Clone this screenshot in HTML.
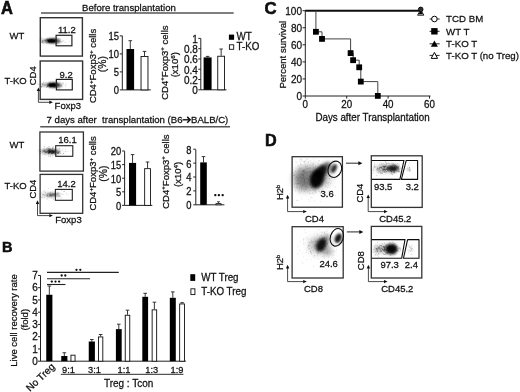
<!DOCTYPE html>
<html><head><meta charset="utf-8"><style>
html,body{margin:0;padding:0;background:#fff;}
svg{display:block;}
text{font-family:"Liberation Sans", sans-serif;fill:#111;}
</style></head><body>
<svg width="520" height="392" viewBox="0 0 520 392">
<defs><filter id="b0_6" x="-50%" y="-50%" width="200%" height="200%"><feGaussianBlur stdDeviation="0.6"/></filter><filter id="b0_9" x="-50%" y="-50%" width="200%" height="200%"><feGaussianBlur stdDeviation="0.9"/></filter><filter id="b1_0" x="-50%" y="-50%" width="200%" height="200%"><feGaussianBlur stdDeviation="1.0"/></filter><filter id="b1_1" x="-50%" y="-50%" width="200%" height="200%"><feGaussianBlur stdDeviation="1.1"/></filter><filter id="b1_2" x="-50%" y="-50%" width="200%" height="200%"><feGaussianBlur stdDeviation="1.2"/></filter><filter id="b1_3" x="-50%" y="-50%" width="200%" height="200%"><feGaussianBlur stdDeviation="1.3"/></filter><filter id="b1_5" x="-50%" y="-50%" width="200%" height="200%"><feGaussianBlur stdDeviation="1.5"/></filter><filter id="b1_6" x="-50%" y="-50%" width="200%" height="200%"><feGaussianBlur stdDeviation="1.6"/></filter><filter id="b1_7" x="-50%" y="-50%" width="200%" height="200%"><feGaussianBlur stdDeviation="1.7"/></filter><filter id="b1_8" x="-50%" y="-50%" width="200%" height="200%"><feGaussianBlur stdDeviation="1.8"/></filter><filter id="b2" x="-50%" y="-50%" width="200%" height="200%"><feGaussianBlur stdDeviation="2"/></filter><filter id="b3" x="-50%" y="-50%" width="200%" height="200%"><feGaussianBlur stdDeviation="3"/></filter><filter id="gsoft" x="0" y="0" width="100%" height="100%"><feGaussianBlur stdDeviation="0.35"/></filter></defs>
<rect width="520" height="392" fill="#fff"/>
<g filter="url(#gsoft)">
<text transform="translate(1.0 13.6) scale(1.0 1.06)" font-size="16.5" text-anchor="start" font-weight="bold" stroke="#000" stroke-width="0.5">A</text>
<text transform="translate(82.0 10.5) scale(1.0 1.03)" font-size="9.6" text-anchor="start" font-weight="normal" stroke="#111" stroke-width="0.25" >Before transplantation</text>
<line x1="41" y1="13.0" x2="233.7" y2="13.0" stroke="#555" stroke-width="1.6"/>
<text transform="translate(9.5 39) scale(1.0 1.03)" font-size="9.5" text-anchor="start" font-weight="normal" stroke="#111" stroke-width="0.25" >WT</text>
<ellipse cx="44.3" cy="40.8" rx="4.5" ry="1.5" fill="#000" fill-opacity="0.35" filter="url(#b1_0)" transform="rotate(0 44.3 40.8)"/>
<ellipse cx="56.3" cy="41.0" rx="4.2" ry="2.5" fill="#000" fill-opacity="0.6" filter="url(#b1_2)" transform="rotate(0 56.3 41.0)"/>
<ellipse cx="51.3" cy="40.8" rx="5.2" ry="2.4" fill="#000" fill-opacity="1.0" filter="url(#b0_9)" transform="rotate(0 51.3 40.8)"/>
<ellipse cx="51.3" cy="40.8" rx="3.5" ry="1.6" fill="#000" fill-opacity="1.0" filter="url(#b0_6)" transform="rotate(0 51.3 40.8)"/>
<path d="M47.6 41.6h0.9 M47.8 40.3h0.9 M44.6 40.5h0.9 M53.8 41.4h0.9 M53.5 41.2h0.9 M50.6 41.1h0.9 M41.3 42.1h0.9 M51.1 41.5h0.9 M41.2 38.2h0.9 M44.8 40.1h0.9 M50.2 40.7h0.9 M51.1 39.8h0.9 M50.2 41.4h0.9 M45.8 43.4h0.9 M51.3 42.6h0.9 M46.0 39.7h0.9 M47.3 40.6h0.9 M51.6 41.2h0.9 M46.8 39.4h0.9 M46.5 42.6h0.9 M45.2 41.2h0.9 M50.7 38.6h0.9 M49.0 42.8h0.9 M39.7 40.3h0.9 M48.3 39.6h0.9 M51.0 40.7h0.9 M42.2 42.0h0.9 M51.8 42.2h0.9 M55.3 41.3h0.9 M49.3 38.9h0.9 M51.6 39.9h0.9 M46.8 38.9h0.9 M44.4 40.0h0.9 M54.6 37.8h0.9 M42.2 41.2h0.9 M55.3 41.7h0.9 M40.3 37.0h0.9 M50.4 39.7h0.9 M43.8 42.3h0.9 M53.8 41.0h0.9 M49.9 41.5h0.9 M56.0 41.7h0.9 M51.1 41.6h0.9 M41.7 42.7h0.9 M53.1 41.6h0.9 M39.9 39.8h0.9 M52.6 38.1h0.9 M48.0 42.3h0.9 M42.9 43.2h0.9 M51.3 40.6h0.9 M50.3 41.8h0.9 M49.3 42.5h0.9 M45.8 40.2h0.9 M53.5 40.8h0.9 M44.8 42.2h0.9 M55.4 40.1h0.9 M42.6 40.6h0.9 M48.1 40.4h0.9 M55.1 39.3h0.9 M54.5 38.9h0.9" stroke="#000" stroke-opacity="0.3" stroke-width="0.9" fill="none"/>
<path d="M57.7 42.1h0.9 M65.3 42.5h0.9 M62.2 41.1h0.9 M61.4 42.0h0.9 M60.1 41.4h0.9 M63.1 40.8h0.9 M63.9 41.9h0.9 M68.8 41.4h0.9 M59.1 40.1h0.9 M60.7 42.6h0.9 M59.5 41.6h0.9 M68.1 35.7h0.9 M56.3 41.3h0.9 M62.4 41.3h0.9" stroke="#000" stroke-opacity="0.15" stroke-width="0.9" fill="none"/>
<rect x="40.3" y="17.7" width="42.10" height="38.40" fill="none" stroke="#333" stroke-width="1.4"/>
<rect x="56.1" y="35.3" width="15.80" height="10.50" fill="none" stroke="#222" stroke-width="1.2"/>
<text transform="translate(58 32.8) scale(1.0 1.03)" font-size="9.5" text-anchor="start" font-weight="normal" stroke="#111" stroke-width="0.25" >11.2</text>
<text transform="translate(4.5 84) scale(1.0 1.03)" font-size="9.5" text-anchor="start" font-weight="normal" stroke="#111" stroke-width="0.25" >T-KO</text>
<ellipse cx="45.5" cy="85" rx="4.5" ry="1.5" fill="#000" fill-opacity="0.35" filter="url(#b1_0)" transform="rotate(0 45.5 85)"/>
<ellipse cx="57.5" cy="85.2" rx="4.2" ry="2.5" fill="#000" fill-opacity="0.6" filter="url(#b1_2)" transform="rotate(0 57.5 85.2)"/>
<ellipse cx="52.5" cy="85" rx="5.2" ry="2.4" fill="#000" fill-opacity="1.0" filter="url(#b0_9)" transform="rotate(0 52.5 85)"/>
<ellipse cx="52.5" cy="85" rx="3.5" ry="1.6" fill="#000" fill-opacity="1.0" filter="url(#b0_6)" transform="rotate(0 52.5 85)"/>
<path d="M48.1 86.0h0.9 M51.3 84.2h0.9 M60.9 85.5h0.9 M47.5 84.9h0.9 M49.0 84.9h0.9 M37.7 84.3h0.9 M54.5 83.2h0.9 M49.7 86.4h0.9 M53.9 87.2h0.9 M42.3 84.5h0.9 M48.5 85.9h0.9 M54.9 81.0h0.9 M54.9 82.8h0.9 M53.1 82.8h0.9 M50.8 86.8h0.9 M49.3 85.3h0.9 M53.6 85.2h0.9 M49.6 87.3h0.9 M54.7 84.6h0.9 M62.4 83.3h0.9 M54.1 84.6h0.9 M50.6 86.1h0.9 M51.0 86.0h0.9 M43.1 82.7h0.9 M52.8 83.6h0.9 M45.4 82.8h0.9 M55.7 86.1h0.9 M56.6 83.6h0.9 M50.0 83.3h0.9 M53.4 87.4h0.9 M46.0 87.3h0.9 M54.4 84.7h0.9 M41.1 87.1h0.9 M49.6 84.1h0.9 M51.8 85.6h0.9 M56.7 83.5h0.9 M55.1 87.2h0.9 M56.5 84.7h0.9 M46.7 86.5h0.9 M50.5 85.2h0.9 M56.4 84.6h0.9 M39.7 84.4h0.9 M41.7 86.2h0.9 M51.4 84.1h0.9 M50.0 86.2h0.9 M50.4 87.0h0.9 M49.7 86.6h0.9 M56.7 87.4h0.9 M47.0 86.3h0.9 M41.6 83.4h0.9 M41.2 86.6h0.9 M44.5 85.0h0.9 M49.1 85.0h0.9 M47.3 85.4h0.9 M58.1 85.1h0.9 M52.4 86.5h0.9 M49.1 83.1h0.9 M47.5 86.6h0.9 M42.6 84.1h0.9 M54.5 86.2h0.9" stroke="#000" stroke-opacity="0.3" stroke-width="0.9" fill="none"/>
<path d="M62.0 86.6h0.9 M62.7 82.6h0.9 M65.7 83.9h0.9 M58.4 83.5h0.9 M57.3 85.7h0.9 M59.4 81.1h0.9 M64.9 84.4h0.9 M63.2 84.1h0.9 M65.1 86.5h0.9 M64.7 85.7h0.9" stroke="#000" stroke-opacity="0.15" stroke-width="0.9" fill="none"/>
<rect x="40.2" y="61" width="42.40" height="38.40" fill="none" stroke="#333" stroke-width="1.4"/>
<rect x="56.4" y="79.4" width="15.90" height="10.50" fill="none" stroke="#222" stroke-width="1.2"/>
<text transform="translate(59.6 77.7) scale(1.0 1.03)" font-size="9.5" text-anchor="start" font-weight="normal" stroke="#111" stroke-width="0.25" >9.2</text>
<text transform="translate(36.4 85.3) rotate(-90) scale(1.0 1.0)" font-size="9.5" text-anchor="start" stroke="#111" stroke-width="0.25" >CD4</text>
<path d="M38.4 90.5 L38.4 102.3 L49.9 102.3" fill="none" stroke="#333" stroke-width="0.9"/>
<path d="M36.699999999999996 91.1 L38.4 87.5 L40.1 91.1Z" fill="#111"/>
<path d="M49.3 100.6 L52.9 102.3 L49.3 104.0Z" fill="#111"/>
<text transform="translate(54.6 109.1) scale(1.0 1.03)" font-size="9.5" text-anchor="start" font-weight="normal" stroke="#111" stroke-width="0.25" >Foxp3</text>
<line x1="122.3" y1="35.8" x2="122.3" y2="89.9" stroke="#222" stroke-width="1"/>
<line x1="122.3" y1="89.9" x2="150.8" y2="89.9" stroke="#222" stroke-width="1"/>
<line x1="119.8" y1="35.900000000000006" x2="122.3" y2="35.900000000000006" stroke="#222" stroke-width="1"/>
<text transform="translate(119.0 40.300000000000004) scale(1.0 1.16)" font-size="9.4" text-anchor="end" font-weight="normal" stroke="#111" stroke-width="0.25" >15</text>
<line x1="119.8" y1="53.900000000000006" x2="122.3" y2="53.900000000000006" stroke="#222" stroke-width="1"/>
<text transform="translate(119.0 58.300000000000004) scale(1.0 1.16)" font-size="9.4" text-anchor="end" font-weight="normal" stroke="#111" stroke-width="0.25" >10</text>
<line x1="119.8" y1="71.9" x2="122.3" y2="71.9" stroke="#222" stroke-width="1"/>
<text transform="translate(119.0 76.30000000000001) scale(1.0 1.16)" font-size="9.4" text-anchor="end" font-weight="normal" stroke="#111" stroke-width="0.25" >5</text>
<line x1="119.8" y1="89.9" x2="122.3" y2="89.9" stroke="#222" stroke-width="1"/>
<text transform="translate(119.0 94.30000000000001) scale(1.0 1.16)" font-size="9.4" text-anchor="end" font-weight="normal" stroke="#111" stroke-width="0.25" >0</text>
<line x1="130.3" y1="49.0" x2="130.3" y2="40.7" stroke="#222" stroke-width="0.9"/>
<line x1="128.5" y1="40.7" x2="132.10000000000002" y2="40.7" stroke="#222" stroke-width="0.9"/>
<rect x="126.5" y="49.0" width="7.60" height="40.90" fill="#000"/>
<line x1="144.5" y1="56.0" x2="144.5" y2="51.4" stroke="#222" stroke-width="0.9"/>
<line x1="142.7" y1="51.4" x2="146.3" y2="51.4" stroke="#222" stroke-width="0.9"/>
<rect x="141.05" y="56.45" width="6.90" height="33.45" fill="#fff" stroke="#111" stroke-width="0.9"/>
<text transform="translate(96.2 103.1) rotate(-90) scale(1.0 1.0)" font-size="9.5" text-anchor="start" stroke="#111" stroke-width="0.25" >CD4<tspan dy="-3.3" font-size="6.2">+</tspan><tspan dy="3.3">Foxp3</tspan><tspan dy="-3.3" font-size="6.2">+</tspan><tspan dy="3.3"> cells</tspan></text>
<text transform="translate(106.2 72.2) rotate(-90) scale(1.0 1.0)" font-size="10.4" text-anchor="start" stroke="#111" stroke-width="0.25" >(%)</text>
<line x1="200.8" y1="38.5" x2="200.8" y2="89.8" stroke="#222" stroke-width="1"/>
<line x1="200.8" y1="89.8" x2="226.5" y2="89.8" stroke="#222" stroke-width="1"/>
<line x1="198.3" y1="38.4" x2="200.8" y2="38.4" stroke="#222" stroke-width="1"/>
<text transform="translate(197.8 42.699999999999996) scale(1.0 1.12)" font-size="10.0" text-anchor="end" font-weight="normal" stroke="#111" stroke-width="0.25" >1</text>
<line x1="198.3" y1="48.67999999999999" x2="200.8" y2="48.67999999999999" stroke="#222" stroke-width="1"/>
<text transform="translate(197.8 52.97999999999999) scale(1.0 1.12)" font-size="10.0" text-anchor="end" font-weight="normal" stroke="#111" stroke-width="0.25" >0.8</text>
<line x1="198.3" y1="58.96" x2="200.8" y2="58.96" stroke="#222" stroke-width="1"/>
<text transform="translate(197.8 63.26) scale(1.0 1.12)" font-size="10.0" text-anchor="end" font-weight="normal" stroke="#111" stroke-width="0.25" >0.6</text>
<line x1="198.3" y1="69.24" x2="200.8" y2="69.24" stroke="#222" stroke-width="1"/>
<text transform="translate(197.8 73.53999999999999) scale(1.0 1.12)" font-size="10.0" text-anchor="end" font-weight="normal" stroke="#111" stroke-width="0.25" >0.4</text>
<line x1="198.3" y1="79.52" x2="200.8" y2="79.52" stroke="#222" stroke-width="1"/>
<text transform="translate(197.8 83.82) scale(1.0 1.12)" font-size="10.0" text-anchor="end" font-weight="normal" stroke="#111" stroke-width="0.25" >0.2</text>
<line x1="198.3" y1="89.8" x2="200.8" y2="89.8" stroke="#222" stroke-width="1"/>
<text transform="translate(197.8 94.1) scale(1.0 1.12)" font-size="10.0" text-anchor="end" font-weight="normal" stroke="#111" stroke-width="0.25" >0</text>
<line x1="207.6" y1="57.4" x2="207.6" y2="56.4" stroke="#222" stroke-width="0.9"/>
<line x1="205.79999999999998" y1="56.4" x2="209.4" y2="56.4" stroke="#222" stroke-width="0.9"/>
<rect x="203.6" y="57.4" width="8.00" height="32.40" fill="#000"/>
<line x1="221.15" y1="55.8" x2="221.15" y2="49" stroke="#222" stroke-width="0.9"/>
<line x1="219.35" y1="49" x2="222.95000000000002" y2="49" stroke="#222" stroke-width="0.9"/>
<rect x="217.75" y="56.25" width="6.80" height="33.55" fill="#fff" stroke="#111" stroke-width="0.9"/>
<text transform="translate(167.6 99.8) rotate(-90) scale(1.0 1.0)" font-size="9.5" text-anchor="start" stroke="#111" stroke-width="0.25" >CD4<tspan dy="-3.3" font-size="6.2">+</tspan><tspan dy="3.3">Foxp3</tspan><tspan dy="-3.3" font-size="6.2">+</tspan><tspan dy="3.3"> cells</tspan></text>
<text transform="translate(178.3 77.3) rotate(-90) scale(1.0 1.0)" font-size="9.5" text-anchor="start" stroke="#111" stroke-width="0.25" >(x10<tspan dy="-3.3" font-size="6.2">6</tspan><tspan dy="3.3">)</tspan></text>
<rect x="228.9" y="34.6" width="5.2" height="5.2" fill="#000"/>
<text transform="translate(236.6 40.3) scale(1.0 1.03)" font-size="9.8" text-anchor="start" font-weight="normal" stroke="#111" stroke-width="0.25" >WT</text>
<rect x="229.4" y="44.8" width="4.3" height="4.5" fill="#fff" stroke="#111" stroke-width="0.9"/>
<text transform="translate(236.6 49.8) scale(1.0 1.03)" font-size="9.8" text-anchor="start" font-weight="normal" stroke="#111" stroke-width="0.25" >T-KO</text>
<text transform="translate(46.6 123.4) scale(1.0 1.03)" font-size="9.6" text-anchor="start" font-weight="normal" stroke="#111" stroke-width="0.25" >7 days after&#160; transplantation (B6</text>
<path d="M182.6 119.8 H189" stroke="#111" stroke-width="1.4"/><path d="M187.2 116.9 L190.1 119.8 L187.2 122.7" fill="none" stroke="#111" stroke-width="1.5"/>
<text transform="translate(191.0 123.4) scale(1.0 1.03)" font-size="9.6" text-anchor="start" font-weight="normal" stroke="#111" stroke-width="0.25" >BALB/C)</text>
<line x1="40.2" y1="126.8" x2="230" y2="126.8" stroke="#555" stroke-width="1.4"/>
<text transform="translate(9.5 148) scale(1.0 1.03)" font-size="9.5" text-anchor="start" font-weight="normal" stroke="#111" stroke-width="0.25" >WT</text>
<ellipse cx="46.5" cy="151.5" rx="7" ry="2.6" fill="#000" fill-opacity="0.3" filter="url(#b1_5)" transform="rotate(0 46.5 151.5)"/>
<ellipse cx="56.5" cy="151.5" rx="3.5" ry="2.3" fill="#000" fill-opacity="0.45" filter="url(#b1_3)" transform="rotate(0 56.5 151.5)"/>
<ellipse cx="51.5" cy="151.5" rx="4.5" ry="2.0" fill="#000" fill-opacity="0.85" filter="url(#b1_0)" transform="rotate(0 51.5 151.5)"/>
<path d="M56.2 152.7h0.9 M51.8 147.7h0.9 M54.0 153.9h0.9 M48.0 150.7h0.9 M59.2 148.3h0.9 M51.8 155.9h0.9 M44.9 152.7h0.9 M58.9 151.3h0.9 M52.3 153.1h0.9 M45.0 151.3h0.9 M51.0 153.0h0.9 M49.3 151.1h0.9 M44.4 150.9h0.9 M54.0 151.7h0.9 M45.2 150.0h0.9 M62.8 153.6h0.9 M52.7 146.8h0.9 M52.6 152.4h0.9 M57.9 152.3h0.9 M49.2 152.4h0.9 M39.8 153.4h0.9 M51.1 150.2h0.9 M56.1 154.8h0.9 M42.5 150.3h0.9 M51.0 151.8h0.9 M47.5 149.7h0.9 M60.1 153.4h0.9 M43.5 149.1h0.9 M58.0 153.3h0.9 M58.6 153.0h0.9 M45.1 152.0h0.9 M38.7 150.2h0.9 M49.2 152.4h0.9 M45.9 151.3h0.9 M51.8 152.2h0.9 M52.7 151.9h0.9 M47.9 152.9h0.9 M49.7 150.0h0.9 M46.4 151.5h0.9 M49.0 151.8h0.9 M49.5 151.8h0.9 M48.8 149.2h0.9 M51.6 153.4h0.9 M51.7 151.2h0.9 M51.7 149.8h0.9 M40.0 151.6h0.9 M44.8 152.8h0.9 M44.1 146.8h0.9 M44.3 154.3h0.9 M47.6 149.0h0.9 M45.7 152.4h0.9 M52.0 151.8h0.9 M56.9 152.8h0.9 M49.4 152.6h0.9 M57.8 153.2h0.9 M54.6 149.6h0.9 M48.8 152.8h0.9 M48.0 153.4h0.9 M52.5 153.1h0.9 M48.4 156.1h0.9 M55.7 151.1h0.9 M50.0 156.2h0.9 M47.8 153.1h0.9 M54.4 151.5h0.9 M43.7 151.8h0.9 M51.3 153.5h0.9 M53.4 151.5h0.9 M53.8 152.5h0.9 M50.5 151.6h0.9 M48.3 152.7h0.9 M44.2 150.4h0.9 M49.5 148.9h0.9 M47.3 147.9h0.9 M46.1 152.5h0.9 M52.3 151.4h0.9 M48.3 148.9h0.9 M58.6 152.4h0.9 M55.0 149.9h0.9 M48.6 148.2h0.9 M53.4 153.2h0.9 M40.0 151.4h0.9 M52.7 148.3h0.9 M40.4 149.6h0.9 M46.4 149.0h0.9 M49.7 151.9h0.9 M52.7 152.8h0.9 M57.0 153.6h0.9 M42.9 150.6h0.9 M44.2 149.6h0.9 M49.1 151.5h0.9 M52.0 148.6h0.9 M43.3 151.5h0.9 M48.5 150.9h0.9 M49.2 150.1h0.9 M53.0 152.1h0.9 M49.1 150.3h0.9 M48.6 146.6h0.9 M44.6 151.6h0.9 M42.0 151.9h0.9 M50.2 149.0h0.9 M48.2 150.9h0.9 M51.8 152.6h0.9 M49.3 150.0h0.9 M48.8 151.4h0.9 M53.2 152.0h0.9 M45.9 149.1h0.9 M47.6 150.2h0.9 M43.9 151.3h0.9 M47.0 151.7h0.9 M52.1 150.8h0.9" stroke="#000" stroke-opacity="0.35" stroke-width="0.9" fill="none"/>
<path d="M69.8 150.8h0.9 M64.9 151.8h0.9 M65.0 146.3h0.9 M57.5 152.0h0.9 M61.8 154.3h0.9 M63.6 153.6h0.9 M62.5 151.2h0.9 M62.5 149.1h0.9 M65.2 149.3h0.9 M61.5 156.2h0.9 M59.6 151.5h0.9 M65.2 151.6h0.9 M57.3 152.1h0.9 M62.8 153.1h0.9 M57.4 155.4h0.9 M67.2 151.5h0.9 M61.6 150.6h0.9" stroke="#000" stroke-opacity="0.15" stroke-width="0.9" fill="none"/>
<rect x="39.9" y="132" width="43.50" height="39.10" fill="none" stroke="#333" stroke-width="1.3"/>
<rect x="55.7" y="145.7" width="17.10" height="10.60" fill="none" stroke="#222" stroke-width="1.1"/>
<text transform="translate(58.2 142.9) scale(1.0 1.03)" font-size="9.5" text-anchor="start" font-weight="normal" stroke="#111" stroke-width="0.25" >16.1</text>
<text transform="translate(4.5 189) scale(1.0 1.03)" font-size="9.5" text-anchor="start" font-weight="normal" stroke="#111" stroke-width="0.25" >T-KO</text>
<ellipse cx="47" cy="194.8" rx="7" ry="2.6" fill="#000" fill-opacity="0.135" filter="url(#b1_5)" transform="rotate(0 47 194.8)"/>
<ellipse cx="57" cy="194.8" rx="3.5" ry="2.3" fill="#000" fill-opacity="0.2025" filter="url(#b1_3)" transform="rotate(0 57 194.8)"/>
<ellipse cx="52" cy="194.8" rx="4.5" ry="2.0" fill="#000" fill-opacity="0.3825" filter="url(#b1_0)" transform="rotate(0 52 194.8)"/>
<path d="M57.1 193.5h0.9 M53.4 193.9h0.9 M46.5 196.1h0.9 M56.7 194.8h0.9 M46.6 196.3h0.9 M49.8 195.4h0.9 M57.6 196.8h0.9 M47.4 198.9h0.9 M50.0 196.2h0.9 M46.8 194.7h0.9 M41.3 198.0h0.9 M56.8 192.6h0.9 M42.5 191.9h0.9 M55.9 194.0h0.9 M49.7 194.2h0.9 M49.4 192.8h0.9 M50.1 192.2h0.9 M49.6 195.4h0.9 M52.3 194.4h0.9 M45.5 195.1h0.9 M47.6 197.6h0.9 M53.8 194.6h0.9 M47.6 193.5h0.9 M45.3 194.2h0.9 M51.5 195.7h0.9 M52.8 198.6h0.9 M46.5 194.8h0.9 M64.0 191.4h0.9 M47.4 195.1h0.9 M50.8 195.5h0.9 M48.8 195.5h0.9 M50.3 196.2h0.9 M40.5 193.2h0.9 M50.0 192.9h0.9 M44.8 195.9h0.9 M46.8 195.9h0.9 M53.7 195.4h0.9 M52.5 194.6h0.9 M43.0 194.7h0.9 M52.3 193.8h0.9 M49.5 196.1h0.9 M45.6 196.0h0.9 M59.3 193.8h0.9 M50.7 194.5h0.9 M57.7 195.4h0.9 M54.5 193.6h0.9 M49.9 194.8h0.9 M41.1 197.4h0.9 M54.5 191.7h0.9 M53.7 194.6h0.9 M52.2 195.5h0.9 M42.5 194.4h0.9 M57.5 193.8h0.9 M44.9 192.4h0.9 M43.9 195.4h0.9 M58.5 195.6h0.9 M51.2 198.8h0.9 M47.4 193.6h0.9 M52.6 195.8h0.9 M44.9 192.7h0.9 M51.5 195.2h0.9 M43.5 194.4h0.9 M47.3 195.6h0.9 M49.4 194.6h0.9 M48.2 196.7h0.9 M57.0 194.1h0.9 M54.2 193.4h0.9 M50.4 196.1h0.9 M57.6 194.1h0.9 M49.6 195.2h0.9 M42.5 194.8h0.9 M46.6 195.5h0.9 M44.4 191.2h0.9 M50.2 195.3h0.9 M47.3 196.4h0.9 M48.6 193.7h0.9 M52.4 192.0h0.9 M46.6 194.8h0.9 M54.2 194.5h0.9 M51.5 193.6h0.9 M51.5 197.8h0.9 M46.6 199.1h0.9 M46.8 194.8h0.9 M50.9 196.6h0.9 M43.8 191.0h0.9 M53.0 196.2h0.9 M53.1 199.5h0.9 M51.0 195.3h0.9 M54.6 195.5h0.9 M58.3 192.6h0.9 M48.1 188.6h0.9 M54.1 194.1h0.9 M54.6 198.7h0.9 M50.0 194.3h0.9 M47.5 193.3h0.9 M46.8 196.0h0.9 M50.2 194.9h0.9 M49.1 196.4h0.9 M52.5 194.5h0.9 M53.3 194.5h0.9 M44.2 197.4h0.9 M52.3 193.1h0.9 M55.4 195.4h0.9 M42.2 197.7h0.9 M51.7 196.4h0.9 M51.0 194.5h0.9 M42.3 196.5h0.9 M50.2 194.3h0.9 M51.8 194.9h0.9 M53.4 194.1h0.9" stroke="#000" stroke-opacity="0.1575" stroke-width="0.9" fill="none"/>
<path d="M60.9 190.1h0.9 M59.3 196.3h0.9 M66.3 194.0h0.9 M60.5 198.3h0.9 M59.7 196.4h0.9 M67.7 194.9h0.9 M65.9 193.2h0.9 M61.8 194.6h0.9 M61.5 197.3h0.9 M70.6 193.3h0.9 M58.7 195.9h0.9 M56.8 195.9h0.9 M63.3 194.2h0.9 M63.1 191.4h0.9 M64.0 191.4h0.9 M58.2 193.6h0.9 M59.4 196.7h0.9 M61.3 193.9h0.9" stroke="#000" stroke-opacity="0.15" stroke-width="0.9" fill="none"/>
<rect x="40.1" y="174.4" width="42.60" height="38.90" fill="none" stroke="#333" stroke-width="1.3"/>
<rect x="55.4" y="189.4" width="16.90" height="10.90" fill="none" stroke="#222" stroke-width="1.1"/>
<text transform="translate(57.2 186.9) scale(1.0 1.03)" font-size="9.5" text-anchor="start" font-weight="normal" stroke="#111" stroke-width="0.25" >14.2</text>
<text transform="translate(36.4 198.6) rotate(-90) scale(1.0 1.0)" font-size="9.5" text-anchor="start" stroke="#111" stroke-width="0.25" >CD4</text>
<path d="M37.5 203.3 L37.5 215.6 L49.9 215.6" fill="none" stroke="#333" stroke-width="0.9"/>
<path d="M35.8 203.9 L37.5 200.3 L39.2 203.9Z" fill="#111"/>
<path d="M49.3 213.9 L52.9 215.6 L49.3 217.29999999999998Z" fill="#111"/>
<text transform="translate(55.3 222.9) scale(1.0 1.03)" font-size="9.5" text-anchor="start" font-weight="normal" stroke="#111" stroke-width="0.25" >Foxp3</text>
<line x1="124.6" y1="151.2" x2="124.6" y2="205.4" stroke="#222" stroke-width="1"/>
<line x1="124.6" y1="205.4" x2="152.3" y2="205.4" stroke="#222" stroke-width="1"/>
<line x1="122.1" y1="151.0" x2="124.6" y2="151.0" stroke="#222" stroke-width="1"/>
<text transform="translate(121.2 155.4) scale(1.0 1.16)" font-size="9.4" text-anchor="end" font-weight="normal" stroke="#111" stroke-width="0.25" >20</text>
<line x1="122.1" y1="164.6" x2="124.6" y2="164.6" stroke="#222" stroke-width="1"/>
<text transform="translate(121.2 169.0) scale(1.0 1.16)" font-size="9.4" text-anchor="end" font-weight="normal" stroke="#111" stroke-width="0.25" >15</text>
<line x1="122.1" y1="178.2" x2="124.6" y2="178.2" stroke="#222" stroke-width="1"/>
<text transform="translate(121.2 182.6) scale(1.0 1.16)" font-size="9.4" text-anchor="end" font-weight="normal" stroke="#111" stroke-width="0.25" >10</text>
<line x1="122.1" y1="191.8" x2="124.6" y2="191.8" stroke="#222" stroke-width="1"/>
<text transform="translate(121.2 196.20000000000002) scale(1.0 1.16)" font-size="9.4" text-anchor="end" font-weight="normal" stroke="#111" stroke-width="0.25" >5</text>
<line x1="122.1" y1="205.4" x2="124.6" y2="205.4" stroke="#222" stroke-width="1"/>
<text transform="translate(121.2 209.8) scale(1.0 1.16)" font-size="9.4" text-anchor="end" font-weight="normal" stroke="#111" stroke-width="0.25" >0</text>
<line x1="132.55" y1="162.9" x2="132.55" y2="154.6" stroke="#222" stroke-width="0.9"/>
<line x1="130.75" y1="154.6" x2="134.35000000000002" y2="154.6" stroke="#222" stroke-width="0.9"/>
<rect x="129" y="162.9" width="7.10" height="42.50" fill="#000"/>
<line x1="147.55" y1="168.2" x2="147.55" y2="162" stroke="#222" stroke-width="0.9"/>
<line x1="145.75" y1="162" x2="149.35000000000002" y2="162" stroke="#222" stroke-width="0.9"/>
<rect x="144.65" y="168.65" width="5.80" height="36.75" fill="#fff" stroke="#111" stroke-width="0.9"/>
<text transform="translate(96.4 210.6) rotate(-90) scale(1.0 1.0)" font-size="9.5" text-anchor="start" stroke="#111" stroke-width="0.25" >CD4<tspan dy="-3.3" font-size="6.2">+</tspan><tspan dy="3.3">Foxp3</tspan><tspan dy="-3.3" font-size="6.2">+</tspan><tspan dy="3.3"> cells</tspan></text>
<text transform="translate(107.0 181.8) rotate(-90) scale(1.0 1.0)" font-size="10.4" text-anchor="start" stroke="#111" stroke-width="0.25" >(%)</text>
<line x1="195.8" y1="149.5" x2="195.8" y2="204.8" stroke="#222" stroke-width="1"/>
<line x1="195.8" y1="204.8" x2="224.4" y2="204.8" stroke="#222" stroke-width="1"/>
<line x1="193.3" y1="149.20000000000002" x2="195.8" y2="149.20000000000002" stroke="#222" stroke-width="1"/>
<text transform="translate(191.5 153.60000000000002) scale(1.0 1.14)" font-size="9.4" text-anchor="end" font-weight="normal" stroke="#111" stroke-width="0.25" >8</text>
<line x1="193.3" y1="163.10000000000002" x2="195.8" y2="163.10000000000002" stroke="#222" stroke-width="1"/>
<text transform="translate(191.5 167.50000000000003) scale(1.0 1.14)" font-size="9.4" text-anchor="end" font-weight="normal" stroke="#111" stroke-width="0.25" >6</text>
<line x1="193.3" y1="177.0" x2="195.8" y2="177.0" stroke="#222" stroke-width="1"/>
<text transform="translate(191.5 181.4) scale(1.0 1.14)" font-size="9.4" text-anchor="end" font-weight="normal" stroke="#111" stroke-width="0.25" >4</text>
<line x1="193.3" y1="190.9" x2="195.8" y2="190.9" stroke="#222" stroke-width="1"/>
<text transform="translate(191.5 195.3) scale(1.0 1.14)" font-size="9.4" text-anchor="end" font-weight="normal" stroke="#111" stroke-width="0.25" >2</text>
<line x1="193.3" y1="204.8" x2="195.8" y2="204.8" stroke="#222" stroke-width="1"/>
<text transform="translate(191.5 209.20000000000002) scale(1.0 1.14)" font-size="9.4" text-anchor="end" font-weight="normal" stroke="#111" stroke-width="0.25" >0</text>
<line x1="203.5" y1="162.4" x2="203.5" y2="156.6" stroke="#222" stroke-width="0.9"/>
<line x1="201.7" y1="156.6" x2="205.3" y2="156.6" stroke="#222" stroke-width="0.9"/>
<rect x="200.2" y="162.4" width="6.60" height="42.40" fill="#000"/>
<rect x="216" y="203.60000000000002" width="5" height="1.2" fill="#fff" stroke="#111" stroke-width="0.8"/>
<line x1="218.5" y1="203.60000000000002" x2="218.5" y2="201.8" stroke="#222" stroke-width="0.8"/>
<line x1="217" y1="201.8" x2="220" y2="201.8" stroke="#222" stroke-width="0.8"/>
<circle cx="215.3" cy="195.1" r="1.2" fill="#111"/>
<circle cx="218.9" cy="195.1" r="1.2" fill="#111"/>
<circle cx="222.7" cy="195.1" r="1.2" fill="#111"/>
<text transform="translate(168.6 208.8) rotate(-90) scale(1.0 1.0)" font-size="9.5" text-anchor="start" stroke="#111" stroke-width="0.25" >CD4<tspan dy="-3.3" font-size="6.2">+</tspan><tspan dy="3.3">Foxp3</tspan><tspan dy="-3.3" font-size="6.2">+</tspan><tspan dy="3.3"> cells</tspan></text>
<text transform="translate(180.8 187) rotate(-90) scale(1.0 1.0)" font-size="9.5" text-anchor="start" stroke="#111" stroke-width="0.25" >(x10<tspan dy="-3.3" font-size="6.2">4</tspan><tspan dy="3.3">)</tspan></text>
<text transform="translate(2.0 252.4) scale(1.0 1.06)" font-size="14.5" text-anchor="start" font-weight="bold" stroke="#000" stroke-width="0.5">B</text>
<line x1="40.5" y1="275.45" x2="40.5" y2="361.2" stroke="#222" stroke-width="1"/>
<line x1="40.5" y1="361.2" x2="186" y2="361.2" stroke="#222" stroke-width="1"/>
<line x1="38.0" y1="275.45" x2="40.5" y2="275.45" stroke="#222" stroke-width="1"/>
<text transform="translate(37.8 279.15) scale(1.0 1.05)" font-size="10" text-anchor="end" font-weight="normal" stroke="#111" stroke-width="0.25" >7</text>
<line x1="38.0" y1="287.7" x2="40.5" y2="287.7" stroke="#222" stroke-width="1"/>
<text transform="translate(37.8 291.4) scale(1.0 1.05)" font-size="10" text-anchor="end" font-weight="normal" stroke="#111" stroke-width="0.25" >6</text>
<line x1="38.0" y1="299.95" x2="40.5" y2="299.95" stroke="#222" stroke-width="1"/>
<text transform="translate(37.8 303.65) scale(1.0 1.05)" font-size="10" text-anchor="end" font-weight="normal" stroke="#111" stroke-width="0.25" >5</text>
<line x1="38.0" y1="312.2" x2="40.5" y2="312.2" stroke="#222" stroke-width="1"/>
<text transform="translate(37.8 315.9) scale(1.0 1.05)" font-size="10" text-anchor="end" font-weight="normal" stroke="#111" stroke-width="0.25" >4</text>
<line x1="38.0" y1="324.45" x2="40.5" y2="324.45" stroke="#222" stroke-width="1"/>
<text transform="translate(37.8 328.15) scale(1.0 1.05)" font-size="10" text-anchor="end" font-weight="normal" stroke="#111" stroke-width="0.25" >3</text>
<line x1="38.0" y1="336.7" x2="40.5" y2="336.7" stroke="#222" stroke-width="1"/>
<text transform="translate(37.8 340.4) scale(1.0 1.05)" font-size="10" text-anchor="end" font-weight="normal" stroke="#111" stroke-width="0.25" >2</text>
<line x1="38.0" y1="348.95" x2="40.5" y2="348.95" stroke="#222" stroke-width="1"/>
<text transform="translate(37.8 352.65) scale(1.0 1.05)" font-size="10" text-anchor="end" font-weight="normal" stroke="#111" stroke-width="0.25" >1</text>
<line x1="38.0" y1="361.2" x2="40.5" y2="361.2" stroke="#222" stroke-width="1"/>
<text transform="translate(37.8 364.9) scale(1.0 1.05)" font-size="10" text-anchor="end" font-weight="normal" stroke="#111" stroke-width="0.25" >0</text>
<line x1="49.325" y1="294.75" x2="49.325" y2="286" stroke="#222" stroke-width="0.9"/>
<line x1="47.525000000000006" y1="286" x2="51.125" y2="286" stroke="#222" stroke-width="0.9"/>
<rect x="46.25" y="294.75" width="6.15" height="66.45" fill="#000"/>
<line x1="64.325" y1="356" x2="64.325" y2="352.75" stroke="#222" stroke-width="0.9"/>
<line x1="62.525000000000006" y1="352.75" x2="66.125" y2="352.75" stroke="#222" stroke-width="0.9"/>
<rect x="61.25" y="356" width="6.15" height="5.20" fill="#000"/>
<rect x="70.95" y="355.20" width="4.10" height="6.00" fill="#fff" stroke="#111" stroke-width="0.9"/>
<line x1="91.825" y1="341.5" x2="91.825" y2="339.5" stroke="#222" stroke-width="0.9"/>
<line x1="90.025" y1="339.5" x2="93.625" y2="339.5" stroke="#222" stroke-width="0.9"/>
<rect x="88.75" y="341.5" width="6.15" height="19.70" fill="#000"/>
<line x1="100.625" y1="336.5" x2="100.625" y2="334.5" stroke="#222" stroke-width="0.9"/>
<line x1="98.825" y1="334.5" x2="102.425" y2="334.5" stroke="#222" stroke-width="0.9"/>
<rect x="98.45" y="336.95" width="4.35" height="24.25" fill="#fff" stroke="#111" stroke-width="0.9"/>
<line x1="118.80000000000001" y1="329.1" x2="118.80000000000001" y2="324.2" stroke="#222" stroke-width="0.9"/>
<line x1="117.00000000000001" y1="324.2" x2="120.60000000000001" y2="324.2" stroke="#222" stroke-width="0.9"/>
<rect x="115.9" y="329.1" width="5.80" height="32.10" fill="#000"/>
<line x1="127.5" y1="314.8" x2="127.5" y2="310.2" stroke="#222" stroke-width="0.9"/>
<line x1="125.7" y1="310.2" x2="129.3" y2="310.2" stroke="#222" stroke-width="0.9"/>
<rect x="125.25" y="315.25" width="4.50" height="45.95" fill="#fff" stroke="#111" stroke-width="0.9"/>
<line x1="145.2" y1="296.8" x2="145.2" y2="293.3" stroke="#222" stroke-width="0.9"/>
<line x1="143.39999999999998" y1="293.3" x2="147.0" y2="293.3" stroke="#222" stroke-width="0.9"/>
<rect x="142.3" y="296.8" width="5.80" height="64.40" fill="#000"/>
<line x1="154.39999999999998" y1="309.4" x2="154.39999999999998" y2="302.2" stroke="#222" stroke-width="0.9"/>
<line x1="152.59999999999997" y1="302.2" x2="156.2" y2="302.2" stroke="#222" stroke-width="0.9"/>
<rect x="152.15" y="309.85" width="4.50" height="51.35" fill="#fff" stroke="#111" stroke-width="0.9"/>
<line x1="172.8" y1="297.8" x2="172.8" y2="291.9" stroke="#222" stroke-width="0.9"/>
<line x1="171.0" y1="291.9" x2="174.60000000000002" y2="291.9" stroke="#222" stroke-width="0.9"/>
<rect x="169.8" y="297.8" width="6.00" height="63.40" fill="#000"/>
<line x1="182.1" y1="303.5" x2="182.1" y2="302.7" stroke="#222" stroke-width="0.9"/>
<line x1="180.29999999999998" y1="302.7" x2="183.9" y2="302.7" stroke="#222" stroke-width="0.9"/>
<rect x="179.65" y="303.95" width="4.90" height="57.25" fill="#fff" stroke="#111" stroke-width="0.9"/>
<line x1="47" y1="272.4" x2="118.8" y2="272.4" stroke="#222" stroke-width="1.1"/>
<circle cx="76.5" cy="269.8" r="1.15" fill="#111"/>
<circle cx="80.3" cy="269.8" r="1.15" fill="#111"/>
<line x1="47" y1="278.7" x2="90" y2="278.7" stroke="#222" stroke-width="1.1"/>
<circle cx="61.7" cy="275.5" r="1.15" fill="#111"/>
<circle cx="65.3" cy="275.5" r="1.15" fill="#111"/>
<line x1="47" y1="284.5" x2="65.5" y2="284.5" stroke="#222" stroke-width="1.1"/>
<circle cx="51.8" cy="281.6" r="1.15" fill="#111"/>
<circle cx="55.5" cy="281.6" r="1.15" fill="#111"/>
<circle cx="59.1" cy="281.6" r="1.15" fill="#111"/>
<text transform="translate(62.0 372.8) scale(1.0 1.03)" font-size="9.3" text-anchor="start" font-weight="normal" stroke="#111" stroke-width="0.25" >9:1</text>
<text transform="translate(88.1 372.8) scale(1.0 1.03)" font-size="9.3" text-anchor="start" font-weight="normal" stroke="#111" stroke-width="0.25" >3:1</text>
<text transform="translate(117.5 372.8) scale(1.0 1.03)" font-size="9.3" text-anchor="start" font-weight="normal" stroke="#111" stroke-width="0.25" >1:1</text>
<text transform="translate(145.3 372.8) scale(1.0 1.03)" font-size="9.3" text-anchor="start" font-weight="normal" stroke="#111" stroke-width="0.25" >1:3</text>
<text transform="translate(170.5 372.8) scale(1.0 1.03)" font-size="9.3" text-anchor="start" font-weight="normal" stroke="#111" stroke-width="0.25" >1:9</text>
<line x1="60.8" y1="374.4" x2="183.4" y2="374.4" stroke="#555" stroke-width="1.3"/>
<text transform="translate(103.9 386.6) scale(1.0 1.03)" font-size="10" text-anchor="start" font-weight="normal" stroke="#111" stroke-width="0.25" >Treg : Tcon</text>
<text transform="translate(55.6 367.4) rotate(-44)" font-size="10" text-anchor="end" stroke="#111" stroke-width="0.25">No Treg</text>
<text transform="translate(17.0 366.7) rotate(-90) scale(1.0 1.0)" font-size="9.5" text-anchor="start" stroke="#111" stroke-width="0.25" >Live cell recovery rate</text>
<text transform="translate(28.2 330.6) rotate(-90) scale(1.0 1.0)" font-size="9.5" text-anchor="start" stroke="#111" stroke-width="0.25" >(fold)</text>
<rect x="190.3" y="274.2" width="4.9" height="6.7" fill="#000"/>
<text transform="translate(201.2 281.0) scale(1.0 1.03)" font-size="9.8" text-anchor="start" font-weight="normal" stroke="#111" stroke-width="0.25" >WT Treg</text>
<rect x="190.9" y="288.8" width="4.0" height="5.8" fill="#fff" stroke="#111" stroke-width="0.9"/>
<text transform="translate(201.2 295.2) scale(1.0 1.03)" font-size="9.8" text-anchor="start" font-weight="normal" stroke="#111" stroke-width="0.25" >T-KO Treg</text>
<text transform="translate(264.6 13.5) scale(1.0 1.02)" font-size="16.8" text-anchor="start" font-weight="bold" stroke="#000" stroke-width="0.5">C</text>
<line x1="305.3" y1="10" x2="305.3" y2="96" stroke="#222" stroke-width="1"/>
<line x1="305.3" y1="96" x2="430.5" y2="96" stroke="#222" stroke-width="1"/>
<line x1="302.6" y1="10.700000000000003" x2="305.3" y2="10.700000000000003" stroke="#222" stroke-width="1"/>
<text transform="translate(302.0 14.900000000000002) scale(1.0 1.05)" font-size="10" text-anchor="end" font-weight="normal" stroke="#111" stroke-width="0.25" >100</text>
<line x1="302.6" y1="27.760000000000005" x2="305.3" y2="27.760000000000005" stroke="#222" stroke-width="1"/>
<text transform="translate(302.0 31.960000000000004) scale(1.0 1.05)" font-size="10" text-anchor="end" font-weight="normal" stroke="#111" stroke-width="0.25" >80</text>
<line x1="302.6" y1="44.82" x2="305.3" y2="44.82" stroke="#222" stroke-width="1"/>
<text transform="translate(302.0 49.02) scale(1.0 1.05)" font-size="10" text-anchor="end" font-weight="normal" stroke="#111" stroke-width="0.25" >60</text>
<line x1="302.6" y1="61.88" x2="305.3" y2="61.88" stroke="#222" stroke-width="1"/>
<text transform="translate(302.0 66.08) scale(1.0 1.05)" font-size="10" text-anchor="end" font-weight="normal" stroke="#111" stroke-width="0.25" >40</text>
<line x1="302.6" y1="78.94" x2="305.3" y2="78.94" stroke="#222" stroke-width="1"/>
<text transform="translate(302.0 83.14) scale(1.0 1.05)" font-size="10" text-anchor="end" font-weight="normal" stroke="#111" stroke-width="0.25" >20</text>
<line x1="302.6" y1="96.0" x2="305.3" y2="96.0" stroke="#222" stroke-width="1"/>
<text transform="translate(302.0 100.2) scale(1.0 1.05)" font-size="10" text-anchor="end" font-weight="normal" stroke="#111" stroke-width="0.25" >0</text>
<line x1="305.3" y1="96" x2="305.3" y2="98.6" stroke="#222" stroke-width="1"/>
<text transform="translate(305.3 108) scale(1.0 1.05)" font-size="9.8" text-anchor="middle" font-weight="normal" stroke="#111" stroke-width="0.25" >0</text>
<line x1="346.7" y1="96" x2="346.7" y2="98.6" stroke="#222" stroke-width="1"/>
<text transform="translate(346.7 108) scale(1.0 1.05)" font-size="9.8" text-anchor="middle" font-weight="normal" stroke="#111" stroke-width="0.25" >20</text>
<line x1="388.1" y1="96" x2="388.1" y2="98.6" stroke="#222" stroke-width="1"/>
<text transform="translate(388.1 108) scale(1.0 1.05)" font-size="9.8" text-anchor="middle" font-weight="normal" stroke="#111" stroke-width="0.25" >40</text>
<line x1="429.5" y1="96" x2="429.5" y2="98.6" stroke="#222" stroke-width="1"/>
<text transform="translate(429.5 108) scale(1.0 1.05)" font-size="9.8" text-anchor="middle" font-weight="normal" stroke="#111" stroke-width="0.25" >60</text>
<text transform="translate(315.4 120.5) scale(1.0 1.03)" font-size="9.8" text-anchor="start" font-weight="normal" stroke="#111" stroke-width="0.25" >Days after Transplantation</text>
<text transform="translate(286.2 88.5) rotate(-90) scale(1.0 1.0)" font-size="9.5" text-anchor="start" stroke="#111" stroke-width="0.25" >Percent survival</text>
<line x1="305.3" y1="10.700000000000003" x2="421" y2="10.700000000000003" stroke="#111" stroke-width="2"/>
<path d="M315.9 10.700000000000003 V31.8 H322 V38.9 H350.6 V53.1 H353.1 V60.2 H359.2 V67.3 H360.8 V81.6 H377.8 V95.9" fill="none" stroke="#444" stroke-width="1"/>
<rect x="313.0" y="28.900000000000002" width="5.8" height="5.8" fill="#000"/>
<rect x="319.1" y="36.0" width="5.8" height="5.8" fill="#000"/>
<rect x="347.70000000000005" y="50.2" width="5.8" height="5.8" fill="#000"/>
<rect x="350.20000000000005" y="57.300000000000004" width="5.8" height="5.8" fill="#000"/>
<rect x="356.3" y="64.39999999999999" width="5.8" height="5.8" fill="#000"/>
<rect x="357.90000000000003" y="78.69999999999999" width="5.8" height="5.8" fill="#000"/>
<rect x="374.90000000000003" y="93.0" width="5.8" height="5.8" fill="#000"/>
<path d="M417.6 15.2 L420.7 9.6 L423.8 15.2Z" fill="#fff" stroke="#000" stroke-width="0.9"/>
<path d="M418.6 14.2 L420.7 10.6 L422.8 14.2Z" fill="#000"/>
<circle cx="420.7" cy="9.4" r="2.3" fill="#333" stroke="#000" stroke-width="0.9"/>
<line x1="429.6" y1="19" x2="439.6" y2="19" stroke="#111" stroke-width="0.9"/>
<line x1="429.6" y1="31.3" x2="439.6" y2="31.3" stroke="#111" stroke-width="0.9"/>
<line x1="429.6" y1="43.8" x2="439.6" y2="43.8" stroke="#111" stroke-width="0.9"/>
<line x1="429.6" y1="55.4" x2="439.6" y2="55.4" stroke="#111" stroke-width="0.9"/>
<circle cx="434.4" cy="19" r="2.8" fill="#fff" stroke="#000" stroke-width="1"/>
<rect x="431.2" y="28.1" width="6.4" height="6.4" fill="#000"/>
<path d="M430.9 46.8 L434.4 40.4 L437.9 46.8Z" fill="#000"/>
<path d="M431.2 58.4 L434.4 52.4 L437.6 58.4Z" fill="#fff" stroke="#000" stroke-width="1"/>
<text transform="translate(446.1 22.3) scale(1.0 1.03)" font-size="9.7" text-anchor="start" font-weight="normal" stroke="#111" stroke-width="0.25" >TCD BM</text>
<text transform="translate(446.1 34.6) scale(1.0 1.03)" font-size="9.7" text-anchor="start" font-weight="normal" stroke="#111" stroke-width="0.25" >WT T</text>
<text transform="translate(446.1 47.1) scale(1.0 1.03)" font-size="9.7" text-anchor="start" font-weight="normal" stroke="#111" stroke-width="0.25" >T-KO T</text>
<text transform="translate(446.1 58.7) scale(1.0 1.03)" font-size="9.7" text-anchor="start" font-weight="normal" stroke="#111" stroke-width="0.25" >T-KO T (no Treg)</text>
<text transform="translate(265.0 145.8) scale(1.0 1.04)" font-size="16.2" text-anchor="start" font-weight="bold" stroke="#000" stroke-width="0.5">D</text>
<ellipse cx="310" cy="178" rx="16" ry="12" fill="#000" fill-opacity="0.4" filter="url(#b3)" transform="rotate(0 310 178)"/>
<ellipse cx="302" cy="181" rx="8" ry="11" fill="#000" fill-opacity="0.2" filter="url(#b3)" transform="rotate(0 302 181)"/>
<ellipse cx="326.5" cy="170" rx="9" ry="3.8" fill="#000" fill-opacity="0.4" filter="url(#b2)" transform="rotate(-40 326.5 170)"/>
<ellipse cx="327" cy="178" rx="6" ry="8" fill="#000" fill-opacity="0.12" filter="url(#b3)" transform="rotate(0 327 178)"/>
<ellipse cx="316.8" cy="178.8" rx="7.0" ry="9.6" fill="#000" fill-opacity="0.97" filter="url(#b1_5)" transform="rotate(15 316.8 178.8)"/>
<ellipse cx="320.8" cy="171.5" rx="5.0" ry="7.0" fill="#000" fill-opacity="0.88" filter="url(#b1_6)" transform="rotate(40 320.8 171.5)"/>
<ellipse cx="325.5" cy="166" rx="3.2" ry="5.5" fill="#000" fill-opacity="0.5" filter="url(#b1_8)" transform="rotate(55 325.5 166)"/>
<ellipse cx="334.0" cy="168.6" rx="2.4" ry="4.6" fill="#000" fill-opacity="0.8" filter="url(#b1_1)" transform="rotate(25 334.0 168.6)"/>
<path d="M315.4 192.2h0.9 M310.1 181.3h0.9 M322.4 180.4h0.9 M297.2 200.4h0.9 M332.1 160.1h0.9 M309.6 181.8h0.9 M319.7 184.0h0.9 M307.3 168.5h0.9 M311.0 187.3h0.9 M299.1 168.8h0.9 M309.8 160.6h0.9 M307.4 174.1h0.9 M314.5 171.7h0.9 M301.2 174.5h0.9 M309.5 172.0h0.9 M310.1 184.8h0.9 M321.9 193.3h0.9 M302.2 174.2h0.9 M302.8 177.7h0.9 M315.2 165.8h0.9 M314.6 177.8h0.9 M321.9 161.2h0.9 M318.1 179.9h0.9 M314.7 182.0h0.9 M323.0 176.0h0.9 M318.7 174.3h0.9 M317.3 170.7h0.9 M308.9 193.6h0.9 M314.5 176.6h0.9 M298.6 170.9h0.9 M311.9 186.5h0.9 M314.3 182.7h0.9 M309.6 190.2h0.9 M306.1 173.1h0.9 M318.9 178.6h0.9 M307.2 172.8h0.9 M307.4 183.6h0.9 M313.5 167.1h0.9 M314.3 179.6h0.9 M300.0 185.0h0.9 M307.2 175.0h0.9 M318.0 189.9h0.9 M303.1 181.9h0.9 M301.2 198.8h0.9 M305.1 188.8h0.9 M303.5 185.3h0.9 M305.7 182.5h0.9 M309.1 172.0h0.9 M331.5 178.7h0.9 M293.6 185.7h0.9 M304.2 179.3h0.9 M322.6 179.1h0.9 M296.1 162.7h0.9 M321.8 184.7h0.9 M301.8 185.7h0.9 M315.0 183.8h0.9 M319.0 184.6h0.9 M311.7 182.4h0.9 M335.5 169.4h0.9 M306.7 178.3h0.9 M318.9 174.0h0.9 M321.5 170.9h0.9 M312.7 173.3h0.9 M311.6 171.8h0.9 M294.0 187.8h0.9 M313.0 173.0h0.9 M312.0 186.9h0.9 M300.2 177.0h0.9 M315.4 182.7h0.9 M306.6 159.0h0.9 M322.4 181.0h0.9 M310.1 175.5h0.9 M312.6 174.2h0.9 M299.8 171.3h0.9 M304.0 172.5h0.9 M298.4 183.7h0.9 M296.9 183.9h0.9 M299.9 181.2h0.9 M323.7 179.8h0.9 M302.7 178.4h0.9 M311.5 162.4h0.9 M303.9 179.5h0.9 M305.3 178.7h0.9 M317.3 184.9h0.9 M319.1 183.3h0.9 M307.1 177.8h0.9 M307.3 175.2h0.9 M308.2 162.5h0.9 M306.7 177.8h0.9 M300.3 177.8h0.9 M315.2 176.5h0.9 M307.9 161.6h0.9 M319.8 201.9h0.9 M315.2 175.3h0.9 M318.5 181.3h0.9 M310.2 172.7h0.9 M316.4 173.6h0.9 M312.2 173.4h0.9 M312.0 184.8h0.9 M301.2 177.7h0.9 M316.2 179.3h0.9 M322.4 195.9h0.9 M300.9 160.7h0.9 M318.6 191.8h0.9 M319.2 185.3h0.9 M303.8 171.6h0.9 M318.9 169.8h0.9 M334.9 195.3h0.9 M303.1 171.4h0.9 M312.3 171.3h0.9 M323.1 177.3h0.9 M299.1 189.8h0.9 M304.2 180.0h0.9 M309.9 175.2h0.9 M313.2 171.8h0.9 M297.3 171.2h0.9 M309.8 178.5h0.9 M315.6 179.1h0.9 M302.1 171.6h0.9 M314.8 182.8h0.9 M308.8 176.4h0.9 M319.4 178.1h0.9 M317.4 183.2h0.9 M312.1 189.8h0.9 M304.3 174.8h0.9 M301.9 170.8h0.9 M325.6 193.8h0.9 M310.2 183.1h0.9 M321.8 185.3h0.9 M322.1 166.6h0.9 M303.6 182.1h0.9 M324.4 178.9h0.9 M301.4 174.8h0.9 M303.4 170.3h0.9 M325.0 172.4h0.9 M310.2 197.5h0.9 M321.8 181.0h0.9 M303.9 181.7h0.9 M326.2 183.6h0.9 M322.6 178.9h0.9 M315.2 176.2h0.9 M314.3 189.7h0.9 M295.7 177.4h0.9 M312.4 172.9h0.9 M306.9 185.1h0.9 M330.0 183.7h0.9 M313.3 164.0h0.9 M329.3 178.7h0.9 M309.7 167.9h0.9 M309.4 168.1h0.9 M310.7 182.2h0.9 M310.3 180.5h0.9 M301.5 190.9h0.9 M303.5 161.6h0.9 M308.1 171.1h0.9 M299.9 174.8h0.9 M312.9 167.4h0.9 M308.6 190.8h0.9 M316.8 176.6h0.9 M311.3 176.9h0.9 M309.5 184.6h0.9 M309.8 170.0h0.9 M316.5 172.5h0.9 M311.5 197.6h0.9 M299.5 167.9h0.9 M303.6 161.2h0.9 M295.2 183.6h0.9 M302.2 174.7h0.9 M313.3 190.2h0.9 M329.4 187.3h0.9 M311.4 179.7h0.9 M328.0 190.9h0.9 M306.9 182.1h0.9 M312.9 178.5h0.9 M305.0 166.1h0.9 M304.7 164.1h0.9 M322.2 182.8h0.9 M297.9 190.6h0.9 M318.9 160.8h0.9 M328.4 185.3h0.9 M330.6 166.9h0.9 M315.3 181.8h0.9 M312.0 179.5h0.9 M320.5 164.6h0.9 M297.6 165.5h0.9 M304.4 172.6h0.9 M313.7 180.4h0.9 M310.3 171.9h0.9 M305.6 186.6h0.9 M317.6 178.9h0.9 M306.8 192.0h0.9 M304.1 183.8h0.9 M321.5 175.6h0.9 M318.3 168.0h0.9 M320.1 179.8h0.9 M294.1 184.0h0.9 M301.1 189.5h0.9 M303.2 176.5h0.9 M312.8 175.0h0.9 M312.6 173.0h0.9 M316.7 178.0h0.9 M321.6 178.3h0.9 M314.7 187.6h0.9 M299.2 191.9h0.9 M308.4 199.6h0.9 M308.5 184.1h0.9 M306.3 168.0h0.9 M321.0 186.2h0.9 M325.4 185.7h0.9 M304.3 163.0h0.9 M303.5 171.9h0.9 M301.8 183.2h0.9 M313.3 175.6h0.9 M311.7 176.7h0.9 M312.1 184.8h0.9 M319.6 171.8h0.9 M294.9 190.8h0.9 M311.1 188.0h0.9 M293.6 175.0h0.9 M310.3 165.0h0.9 M304.8 184.5h0.9 M320.8 192.3h0.9 M301.4 165.4h0.9 M315.2 186.5h0.9 M311.9 166.3h0.9 M317.8 185.1h0.9 M315.5 173.6h0.9 M313.0 185.1h0.9 M304.4 161.4h0.9 M313.3 182.3h0.9 M310.1 186.0h0.9 M304.1 177.3h0.9 M306.9 183.1h0.9 M326.0 175.7h0.9 M330.5 191.8h0.9 M317.9 183.3h0.9 M327.7 176.4h0.9 M308.9 168.4h0.9 M314.7 190.1h0.9 M315.3 181.8h0.9 M308.0 179.5h0.9 M295.7 187.4h0.9 M305.9 168.1h0.9 M302.5 170.6h0.9 M318.6 187.5h0.9 M296.4 186.3h0.9 M318.9 172.8h0.9 M295.1 171.3h0.9 M303.7 181.1h0.9 M306.4 159.7h0.9 M312.3 164.2h0.9 M319.1 167.1h0.9 M303.1 170.3h0.9 M304.6 189.7h0.9 M318.5 183.4h0.9 M313.2 164.1h0.9 M304.8 173.0h0.9 M300.2 182.6h0.9 M302.6 171.6h0.9 M299.6 159.5h0.9 M316.0 190.0h0.9 M311.7 169.2h0.9 M322.2 180.7h0.9 M319.3 191.3h0.9 M321.3 174.0h0.9 M320.5 185.0h0.9 M294.6 174.4h0.9 M295.8 177.0h0.9 M315.8 168.4h0.9 M313.8 191.2h0.9 M296.8 187.5h0.9 M330.7 196.1h0.9 M307.9 180.4h0.9 M308.5 187.0h0.9 M320.4 178.8h0.9 M296.4 184.7h0.9 M305.3 183.7h0.9 M312.6 192.6h0.9 M321.4 173.9h0.9 M313.5 193.9h0.9 M304.6 181.9h0.9 M321.9 189.3h0.9 M315.2 166.1h0.9 M297.4 180.2h0.9 M313.9 200.9h0.9 M301.4 188.2h0.9 M317.7 163.0h0.9 M301.8 179.5h0.9 M305.1 176.6h0.9 M314.7 170.7h0.9 M314.7 172.3h0.9 M304.6 182.8h0.9 M304.3 180.6h0.9 M326.0 178.2h0.9 M308.5 184.6h0.9 M306.3 187.7h0.9 M297.2 183.6h0.9 M304.9 170.8h0.9 M327.7 170.3h0.9 M327.6 183.9h0.9 M324.5 169.2h0.9 M322.0 191.1h0.9 M308.8 176.8h0.9 M334.6 179.6h0.9 M305.8 172.3h0.9 M314.5 181.0h0.9 M311.8 193.5h0.9 M306.7 182.3h0.9 M324.6 169.0h0.9 M320.4 194.5h0.9 M296.5 168.1h0.9 M299.6 161.4h0.9 M314.5 161.3h0.9 M315.0 191.1h0.9 M293.8 175.2h0.9 M302.6 175.6h0.9 M310.5 182.9h0.9 M306.5 178.1h0.9 M304.5 179.0h0.9 M298.3 178.6h0.9 M329.2 178.7h0.9 M297.4 180.3h0.9 M300.3 163.1h0.9 M302.6 184.6h0.9 M313.8 177.1h0.9 M300.7 168.3h0.9 M323.5 180.2h0.9 M300.5 159.0h0.9 M296.3 200.3h0.9 M298.5 177.3h0.9 M312.1 176.6h0.9 M307.2 165.6h0.9 M299.5 193.2h0.9 M302.4 185.6h0.9 M293.1 175.5h0.9 M312.6 187.3h0.9 M298.8 183.4h0.9 M313.9 171.4h0.9 M314.8 169.9h0.9 M302.0 177.8h0.9 M300.0 164.8h0.9 M305.7 184.9h0.9 M306.0 189.4h0.9 M298.4 166.2h0.9 M325.5 181.6h0.9 M319.5 170.6h0.9 M318.0 180.3h0.9 M316.5 178.2h0.9 M322.1 172.2h0.9 M300.4 164.7h0.9 M321.6 171.4h0.9 M299.6 169.5h0.9 M305.5 166.6h0.9 M307.1 172.4h0.9 M304.5 169.4h0.9 M310.4 173.9h0.9 M311.1 180.2h0.9 M313.4 158.3h0.9 M304.6 170.8h0.9 M317.7 163.8h0.9 M302.9 175.4h0.9 M306.6 186.9h0.9 M305.6 186.7h0.9 M295.3 161.7h0.9 M322.2 181.9h0.9 M314.9 179.1h0.9 M314.8 167.1h0.9 M319.5 173.2h0.9 M319.9 178.8h0.9 M321.3 176.8h0.9 M306.0 180.2h0.9 M305.7 173.1h0.9 M311.0 179.3h0.9 M325.2 178.4h0.9 M328.8 194.2h0.9 M327.2 187.6h0.9 M311.3 179.2h0.9 M308.6 171.4h0.9 M309.3 172.2h0.9 M326.4 182.8h0.9 M305.5 160.8h0.9 M309.5 174.3h0.9 M299.1 167.8h0.9 M309.3 201.2h0.9 M309.7 176.7h0.9 M324.4 179.2h0.9 M311.7 174.7h0.9 M303.9 191.5h0.9 M320.0 193.4h0.9 M306.5 178.3h0.9 M301.2 186.7h0.9 M296.1 183.1h0.9 M321.0 190.7h0.9 M300.6 187.8h0.9 M302.9 171.2h0.9 M296.8 188.4h0.9 M326.5 172.7h0.9 M302.4 174.9h0.9 M335.1 187.0h0.9 M304.6 161.9h0.9 M303.3 188.7h0.9 M328.7 175.6h0.9 M303.1 173.4h0.9 M299.1 187.6h0.9 M312.9 171.1h0.9 M317.8 178.1h0.9 M298.3 183.6h0.9 M318.4 160.8h0.9 M328.3 182.5h0.9 M317.6 161.3h0.9 M302.8 174.9h0.9 M320.8 164.9h0.9 M301.2 159.7h0.9 M307.6 181.1h0.9 M293.1 172.7h0.9 M315.1 192.3h0.9 M316.6 175.3h0.9 M298.2 169.6h0.9 M303.4 179.3h0.9 M309.5 193.0h0.9 M312.9 168.4h0.9 M325.4 186.5h0.9 M311.0 171.5h0.9" stroke="#000" stroke-opacity="0.16" stroke-width="0.9" fill="none"/>
<rect x="292.1" y="156.7" width="50.30" height="50.50" fill="none" stroke="#333" stroke-width="1.3"/>
<ellipse cx="334.8" cy="169.3" rx="6.6" ry="8.4" fill="none" stroke="#111" stroke-width="1.1" transform="rotate(22 334.8 169.3)"/>
<text transform="translate(320.5 196.9) scale(1.0 1.03)" font-size="9.5" text-anchor="start" font-weight="normal" stroke="#111" stroke-width="0.25" >3.6</text>
<ellipse cx="320" cy="245" rx="11" ry="9" fill="#000" fill-opacity="0.25" filter="url(#b3)" transform="rotate(0 320 245)"/>
<ellipse cx="328" cy="252" rx="5" ry="4" fill="#000" fill-opacity="0.25" filter="url(#b2)" transform="rotate(0 328 252)"/>
<ellipse cx="321.2" cy="245" rx="4.9" ry="7.0" fill="#000" fill-opacity="0.9" filter="url(#b1_7)" transform="rotate(25 321.2 245)"/>
<ellipse cx="325.5" cy="239" rx="2.8" ry="5" fill="#000" fill-opacity="0.45" filter="url(#b2)" transform="rotate(50 325.5 239)"/>
<ellipse cx="338.2" cy="238.3" rx="3.3" ry="5" fill="#000" fill-opacity="0.9" filter="url(#b1_3)" transform="rotate(25 338.2 238.3)"/>
<path d="M303.0 238.8h0.9 M325.3 240.4h0.9 M307.4 247.4h0.9 M320.0 250.2h0.9 M323.2 255.9h0.9 M311.3 252.9h0.9 M310.1 250.9h0.9 M319.4 247.7h0.9 M325.7 245.9h0.9 M326.9 252.1h0.9 M319.1 242.0h0.9 M312.0 242.3h0.9 M316.4 245.8h0.9 M341.8 250.5h0.9 M324.2 240.0h0.9 M312.3 243.8h0.9 M319.5 238.7h0.9 M330.9 242.1h0.9 M326.6 229.6h0.9 M317.9 247.9h0.9 M319.5 250.2h0.9 M320.2 247.1h0.9 M302.9 241.0h0.9 M299.3 250.4h0.9 M320.5 244.6h0.9 M311.4 241.9h0.9 M332.8 258.1h0.9 M317.5 255.0h0.9 M305.3 232.5h0.9 M314.1 239.9h0.9 M313.5 247.3h0.9 M318.4 247.9h0.9 M317.7 252.5h0.9 M332.2 237.3h0.9 M319.3 244.1h0.9 M320.9 235.3h0.9 M303.9 229.8h0.9 M322.2 247.3h0.9 M318.6 229.4h0.9 M315.0 240.7h0.9 M306.7 239.6h0.9 M323.6 249.8h0.9 M317.8 249.6h0.9 M313.2 246.5h0.9 M318.3 249.9h0.9 M317.4 245.0h0.9 M316.9 241.5h0.9 M335.9 249.6h0.9 M321.4 262.0h0.9 M329.2 235.1h0.9 M323.6 251.9h0.9 M333.1 255.2h0.9 M324.2 237.8h0.9 M311.0 247.9h0.9 M322.0 238.8h0.9 M314.9 243.2h0.9 M318.5 248.4h0.9 M315.7 237.3h0.9 M327.9 257.2h0.9 M317.2 253.2h0.9 M321.6 250.6h0.9 M321.9 240.7h0.9 M322.6 253.1h0.9 M310.8 259.8h0.9 M334.7 258.8h0.9 M333.9 251.2h0.9 M315.3 241.8h0.9 M311.5 246.8h0.9 M317.7 250.7h0.9 M301.8 262.2h0.9 M336.2 245.8h0.9 M323.4 249.3h0.9 M320.2 244.5h0.9 M317.0 240.2h0.9 M319.4 245.8h0.9 M320.6 240.0h0.9 M318.3 246.3h0.9 M322.8 238.6h0.9 M321.4 252.9h0.9 M322.8 243.4h0.9 M314.1 244.3h0.9 M323.8 256.9h0.9 M316.7 241.5h0.9 M321.0 247.4h0.9 M310.7 240.8h0.9 M317.2 250.7h0.9 M308.5 238.9h0.9 M322.0 237.4h0.9 M318.9 248.5h0.9 M317.1 238.9h0.9 M317.5 243.7h0.9 M320.7 240.1h0.9 M326.7 234.3h0.9 M316.6 246.1h0.9 M325.7 241.7h0.9 M322.4 242.0h0.9 M323.9 258.2h0.9 M314.8 249.1h0.9 M310.6 252.8h0.9 M327.7 246.2h0.9 M308.9 248.8h0.9 M327.2 253.6h0.9 M324.5 233.2h0.9 M312.6 256.0h0.9 M308.2 253.9h0.9 M333.1 251.3h0.9 M327.0 243.7h0.9 M308.2 245.3h0.9 M316.4 245.7h0.9 M323.6 245.0h0.9 M319.5 249.0h0.9 M318.0 258.9h0.9 M321.5 246.6h0.9 M316.3 241.6h0.9 M328.8 247.1h0.9 M309.4 242.1h0.9 M316.9 242.9h0.9 M326.7 237.9h0.9 M321.9 247.0h0.9 M308.6 246.3h0.9 M317.2 249.5h0.9 M314.4 248.1h0.9 M304.7 238.4h0.9 M324.3 253.3h0.9 M317.9 241.8h0.9 M326.7 231.4h0.9 M311.6 250.7h0.9 M323.2 238.8h0.9 M302.9 256.2h0.9 M319.2 239.7h0.9 M318.4 252.3h0.9 M297.3 253.8h0.9 M323.9 231.4h0.9 M324.2 233.5h0.9 M327.1 248.8h0.9 M336.0 241.7h0.9 M318.0 253.3h0.9 M312.9 241.1h0.9 M315.0 245.5h0.9 M309.3 249.4h0.9 M322.3 246.5h0.9 M331.6 243.7h0.9 M328.5 242.2h0.9 M324.0 232.5h0.9 M319.6 244.8h0.9 M314.0 241.7h0.9 M315.2 241.0h0.9 M300.5 241.8h0.9 M313.6 242.3h0.9 M309.5 245.1h0.9 M324.3 244.2h0.9 M314.1 255.5h0.9 M325.8 252.5h0.9 M327.2 243.7h0.9 M317.0 253.8h0.9 M313.6 245.2h0.9 M321.0 248.6h0.9 M315.8 252.9h0.9 M316.6 251.1h0.9 M326.6 250.6h0.9 M323.9 237.9h0.9 M307.5 241.7h0.9 M321.8 256.5h0.9 M308.2 248.1h0.9 M311.2 240.9h0.9 M315.8 250.8h0.9 M319.7 254.3h0.9 M310.1 252.2h0.9 M325.4 246.5h0.9 M321.8 242.1h0.9 M309.3 243.2h0.9 M312.9 266.2h0.9 M314.1 257.6h0.9 M319.6 248.2h0.9 M323.9 240.5h0.9 M325.3 248.6h0.9 M305.9 250.2h0.9 M322.4 249.2h0.9 M330.7 243.1h0.9 M322.1 251.2h0.9 M310.8 254.4h0.9 M306.4 236.9h0.9 M322.2 238.4h0.9 M317.1 234.5h0.9 M318.6 238.1h0.9 M320.7 235.3h0.9 M321.6 244.1h0.9 M318.5 245.5h0.9 M319.0 236.8h0.9 M297.5 246.2h0.9 M310.5 242.8h0.9 M321.4 232.1h0.9 M311.9 241.7h0.9 M309.5 248.3h0.9 M316.9 240.3h0.9 M310.1 251.7h0.9 M312.7 250.1h0.9 M321.6 232.7h0.9 M309.3 246.0h0.9 M320.7 251.5h0.9 M324.4 253.2h0.9 M315.0 244.5h0.9 M324.2 243.0h0.9 M326.5 234.9h0.9 M323.2 244.8h0.9 M302.3 252.9h0.9 M320.5 246.1h0.9 M309.4 242.7h0.9 M330.1 240.2h0.9 M308.4 245.1h0.9 M314.9 239.6h0.9 M311.3 253.3h0.9 M306.5 259.7h0.9 M313.6 238.4h0.9 M324.3 249.9h0.9 M309.7 251.2h0.9 M303.3 239.5h0.9 M327.0 244.2h0.9 M307.6 249.6h0.9 M325.3 245.8h0.9 M303.5 243.6h0.9 M321.3 251.4h0.9 M332.8 244.2h0.9 M314.1 245.7h0.9 M327.6 239.4h0.9 M324.4 241.3h0.9 M321.7 250.8h0.9 M308.5 245.4h0.9 M319.9 250.1h0.9 M310.6 239.1h0.9 M302.6 263.8h0.9 M316.5 244.4h0.9 M306.0 252.5h0.9 M313.7 256.0h0.9 M324.8 246.1h0.9 M323.8 238.2h0.9 M315.4 242.0h0.9 M307.8 246.1h0.9 M316.8 256.0h0.9 M310.7 242.8h0.9 M321.4 248.8h0.9 M318.2 242.7h0.9 M322.0 248.5h0.9 M303.3 244.2h0.9 M307.0 237.7h0.9 M319.2 246.4h0.9" stroke="#000" stroke-opacity="0.14" stroke-width="0.9" fill="none"/>
<rect x="292.1" y="226.7" width="51.10" height="51.30" fill="none" stroke="#333" stroke-width="1.3"/>
<ellipse cx="336.8" cy="237.3" rx="6.4" ry="9" fill="none" stroke="#111" stroke-width="1.1" transform="rotate(18 336.8 237.3)"/>
<text transform="translate(319.4 266.9) scale(1.0 1.03)" font-size="9.5" text-anchor="start" font-weight="normal" stroke="#111" stroke-width="0.25" >24.6</text>
<text transform="translate(283.4 200.1) rotate(-90) scale(1.0 1.0)" font-size="9.5" text-anchor="start" stroke="#111" stroke-width="0.25" >H2<tspan dy="-3.8" font-size="5.5">b</tspan></text>
<text transform="translate(283.4 270.1) rotate(-90) scale(1.0 1.0)" font-size="9.5" text-anchor="start" stroke="#111" stroke-width="0.25" >H2<tspan dy="-3.8" font-size="5.5">b</tspan></text>
<path d="M287.6 197.8 L287.6 211.6 L303.8 211.6" fill="none" stroke="#333" stroke-width="0.9"/>
<path d="M285.90000000000003 198.4 L287.6 194.8 L289.3 198.4Z" fill="#111"/>
<path d="M303.2 209.9 L306.8 211.6 L303.2 213.29999999999998Z" fill="#111"/>
<path d="M287.6 267.8 L287.6 281.6 L303.8 281.6" fill="none" stroke="#333" stroke-width="0.9"/>
<path d="M285.90000000000003 268.40000000000003 L287.6 264.8 L289.3 268.40000000000003Z" fill="#111"/>
<path d="M303.2 279.90000000000003 L306.8 281.6 L303.2 283.3Z" fill="#111"/>
<text transform="translate(305 221.8) scale(1.0 1.03)" font-size="9.5" text-anchor="start" font-weight="normal" stroke="#111" stroke-width="0.25" >CD4</text>
<text transform="translate(304 292.3) scale(1.0 1.03)" font-size="9.5" text-anchor="start" font-weight="normal" stroke="#111" stroke-width="0.25" >CD8</text>
<line x1="346" y1="163.2" x2="359.4" y2="163.2" stroke="#111" stroke-width="0.9"/>
<path d="M358.4 161.2 L362.4 163.2 L358.4 165.2Z" fill="#111"/>
<line x1="346.9" y1="231.9" x2="360.3" y2="231.9" stroke="#111" stroke-width="0.9"/>
<path d="M359.3 229.9 L363.3 231.9 L359.3 233.9Z" fill="#111"/>
<ellipse cx="387" cy="168.4" rx="12" ry="4" fill="#000" fill-opacity="0.225" filter="url(#b2)" transform="rotate(0 387 168.4)"/>
<path d="M387.9 166.1h0.9 M385.4 166.0h0.9 M390.1 170.2h0.9 M380.6 167.2h0.9 M379.5 169.2h0.9 M376.7 169.7h0.9 M387.0 169.2h0.9 M380.2 173.5h0.9 M389.7 166.4h0.9 M387.4 171.0h0.9 M385.9 166.6h0.9 M381.1 173.3h0.9 M372.9 168.9h0.9 M387.2 170.0h0.9 M383.8 169.7h0.9 M393.5 168.0h0.9 M383.3 167.9h0.9 M379.3 167.9h0.9 M384.6 168.9h0.9 M397.7 171.8h0.9 M383.4 170.0h0.9 M389.4 170.4h0.9 M387.2 169.1h0.9 M383.2 166.4h0.9 M394.0 171.8h0.9 M392.3 169.5h0.9 M389.1 167.2h0.9 M372.7 170.1h0.9 M388.6 167.0h0.9 M379.3 171.7h0.9 M372.6 173.0h0.9 M392.1 174.6h0.9 M381.3 168.3h0.9 M382.9 168.8h0.9 M385.3 166.5h0.9 M395.6 166.4h0.9 M382.9 169.8h0.9 M382.7 167.3h0.9 M389.8 167.4h0.9 M377.0 168.1h0.9 M385.2 172.8h0.9 M378.2 170.9h0.9 M380.7 167.5h0.9 M384.4 169.1h0.9 M393.9 172.9h0.9 M381.9 171.9h0.9 M395.0 170.5h0.9 M380.9 170.7h0.9 M386.1 169.3h0.9 M384.8 170.1h0.9 M395.9 171.3h0.9 M385.4 171.0h0.9 M398.6 166.0h0.9 M398.8 164.9h0.9 M391.3 169.9h0.9 M398.9 169.1h0.9 M383.2 166.3h0.9 M377.0 170.4h0.9 M385.1 166.5h0.9 M391.3 166.4h0.9 M383.5 167.2h0.9 M385.7 164.3h0.9 M389.2 168.6h0.9 M389.8 169.9h0.9 M384.4 170.8h0.9 M393.7 168.9h0.9 M383.7 167.2h0.9 M392.5 165.5h0.9 M385.7 166.5h0.9 M375.9 170.0h0.9 M386.8 168.5h0.9 M394.0 164.5h0.9 M386.5 169.2h0.9 M393.7 165.6h0.9 M392.7 169.0h0.9 M397.8 171.4h0.9 M391.4 174.0h0.9 M387.0 167.3h0.9 M384.3 166.0h0.9 M386.8 163.5h0.9 M386.3 169.5h0.9 M394.9 167.5h0.9 M398.1 166.7h0.9 M385.9 163.5h0.9 M380.9 166.3h0.9 M398.7 169.7h0.9 M378.4 169.8h0.9 M390.8 167.8h0.9 M387.2 167.6h0.9 M382.8 163.9h0.9 M386.3 171.7h0.9 M398.2 167.7h0.9 M381.2 167.9h0.9 M394.0 169.3h0.9 M382.4 169.3h0.9 M385.4 169.7h0.9 M383.8 164.7h0.9 M387.5 170.3h0.9 M378.4 168.1h0.9 M393.8 167.5h0.9 M381.9 173.5h0.9 M393.5 171.0h0.9 M379.6 172.5h0.9 M374.1 167.1h0.9 M392.8 171.8h0.9 M379.8 166.7h0.9 M388.5 163.5h0.9 M392.0 169.8h0.9 M383.5 169.8h0.9 M393.0 169.2h0.9 M391.1 172.2h0.9 M383.3 168.8h0.9 M382.9 171.0h0.9 M383.8 169.6h0.9 M388.1 168.6h0.9 M398.0 170.5h0.9 M397.2 168.0h0.9 M394.2 170.3h0.9 M382.2 169.1h0.9 M386.0 168.3h0.9 M397.1 166.6h0.9 M374.0 164.0h0.9 M383.5 166.8h0.9 M387.1 169.8h0.9 M390.6 166.6h0.9 M391.5 171.8h0.9 M397.3 163.5h0.9 M393.9 172.4h0.9 M393.4 164.7h0.9 M384.6 169.9h0.9 M390.2 166.4h0.9 M380.1 170.8h0.9 M376.7 172.0h0.9 M387.2 169.2h0.9 M376.7 166.9h0.9 M392.3 164.7h0.9 M377.6 168.5h0.9 M390.7 170.2h0.9 M384.1 167.9h0.9 M385.2 167.0h0.9 M388.9 168.8h0.9 M382.2 169.0h0.9 M386.9 168.2h0.9 M395.5 164.1h0.9 M388.9 165.7h0.9 M384.6 172.1h0.9 M378.7 168.2h0.9 M382.5 170.8h0.9 M379.5 164.2h0.9 M390.9 167.5h0.9 M384.5 171.1h0.9 M380.2 167.5h0.9 M388.1 169.4h0.9 M383.0 171.0h0.9 M397.8 167.5h0.9 M388.1 167.6h0.9 M382.1 165.2h0.9 M384.0 171.6h0.9 M395.8 167.5h0.9 M382.9 166.6h0.9 M377.8 172.9h0.9 M392.1 168.7h0.9 M383.2 165.8h0.9 M397.1 170.3h0.9 M379.7 170.9h0.9 M378.5 170.0h0.9 M379.6 167.4h0.9 M390.8 169.5h0.9 M394.8 166.3h0.9 M399.1 171.8h0.9 M386.9 169.6h0.9 M381.0 168.0h0.9 M376.9 168.6h0.9 M388.5 171.8h0.9 M394.3 170.4h0.9 M384.2 167.8h0.9 M384.4 169.0h0.9 M375.0 167.1h0.9 M387.2 167.1h0.9 M399.8 168.2h0.9 M399.1 171.3h0.9 M383.2 169.4h0.9 M397.0 167.6h0.9 M387.7 167.0h0.9 M387.5 167.5h0.9 M387.6 170.9h0.9 M397.7 168.7h0.9 M388.6 170.5h0.9 M384.8 165.8h0.9 M395.5 166.1h0.9 M394.1 166.0h0.9 M393.5 172.1h0.9 M379.6 172.1h0.9 M380.7 164.0h0.9 M392.5 170.2h0.9 M385.4 162.1h0.9 M386.6 167.6h0.9 M384.1 167.7h0.9 M373.3 167.0h0.9 M384.2 166.6h0.9 M390.0 171.1h0.9 M392.6 165.5h0.9 M388.2 168.8h0.9 M398.0 171.4h0.9 M391.0 171.4h0.9 M384.0 172.2h0.9 M383.7 169.4h0.9 M394.1 166.1h0.9 M381.6 164.0h0.9 M388.3 168.3h0.9 M384.5 169.6h0.9 M387.7 167.7h0.9 M393.1 172.8h0.9 M383.6 166.1h0.9 M382.4 168.6h0.9 M391.5 166.3h0.9 M394.7 165.8h0.9 M393.4 169.5h0.9 M390.6 173.8h0.9 M385.0 168.0h0.9 M390.7 170.6h0.9 M376.7 169.1h0.9 M381.3 170.0h0.9 M397.5 168.5h0.9 M386.2 168.9h0.9 M391.3 168.8h0.9 M384.0 166.6h0.9 M385.6 171.4h0.9 M386.2 171.8h0.9 M389.1 168.4h0.9 M374.3 166.7h0.9 M396.6 165.2h0.9 M379.4 165.7h0.9 M382.8 170.0h0.9 M391.6 163.3h0.9 M398.2 166.9h0.9 M382.5 172.6h0.9 M386.4 165.3h0.9 M382.1 166.6h0.9 M379.2 167.6h0.9 M393.7 169.3h0.9 M376.4 175.4h0.9 M379.4 168.7h0.9 M387.2 170.3h0.9 M384.5 169.5h0.9 M378.7 169.2h0.9 M380.8 167.5h0.9 M388.4 169.2h0.9 M384.8 170.5h0.9 M385.5 165.1h0.9 M393.7 167.5h0.9 M396.3 166.8h0.9 M391.4 169.2h0.9 M378.4 171.9h0.9 M372.5 170.7h0.9 M395.4 169.6h0.9 M392.2 167.2h0.9 M386.9 169.0h0.9 M390.2 170.2h0.9 M385.4 166.6h0.9 M382.7 169.4h0.9 M374.2 165.3h0.9 M383.8 167.0h0.9 M384.9 161.8h0.9 M384.4 167.8h0.9 M393.0 163.5h0.9 M384.6 169.6h0.9 M390.8 171.4h0.9 M395.1 165.8h0.9 M391.9 167.6h0.9 M380.8 172.2h0.9 M382.2 166.3h0.9 M383.9 166.3h0.9 M394.7 169.3h0.9 M397.8 169.4h0.9 M382.3 171.0h0.9 M382.0 167.2h0.9 M385.7 168.5h0.9 M396.2 166.9h0.9" stroke="#000" stroke-opacity="0.25" stroke-width="0.9" fill="none"/>
<ellipse cx="393" cy="168.4" rx="5.5" ry="3" fill="#000" fill-opacity="0.9" filter="url(#b1_5)" transform="rotate(0 393 168.4)"/>
<path d="M409.2 169.9h0.9 M406.9 167.3h0.9 M408.4 170.9h0.9 M409.2 171.1h0.9 M408.8 168.9h0.9 M409.3 167.5h0.9 M406.8 169.1h0.9 M406.6 168.7h0.9 M407.6 168.6h0.9 M408.6 168.0h0.9 M408.1 165.8h0.9 M408.9 167.8h0.9 M409.3 163.1h0.9 M407.5 170.5h0.9 M405.2 169.1h0.9 M408.8 170.2h0.9 M406.5 170.5h0.9 M408.9 167.6h0.9 M409.8 169.8h0.9 M408.7 168.9h0.9 M409.5 170.2h0.9 M410.3 171.0h0.9 M407.8 169.4h0.9 M410.0 169.1h0.9 M409.3 171.2h0.9" stroke="#000" stroke-opacity="0.2" stroke-width="0.9" fill="none"/>
<rect x="371.3" y="155.8" width="50.90" height="51.60" fill="none" stroke="#333" stroke-width="1.3"/>
<path d="M371.6 160.5 H403.9 L399.9 179.4 H371.6" fill="none" stroke="#111" stroke-width="1.1"/>
<path d="M406.2 160.5 H417.6 V179.4 H401.4 Z" fill="none" stroke="#111" stroke-width="1.1" stroke-linejoin="round"/>
<text transform="translate(373.9 189.6) scale(1.0 1.03)" font-size="9.5" text-anchor="start" font-weight="normal" stroke="#111" stroke-width="0.25" >93.5</text>
<text transform="translate(405.7 189.6) scale(1.0 1.03)" font-size="9.5" text-anchor="start" font-weight="normal" stroke="#111" stroke-width="0.25" >3.2</text>
<ellipse cx="385.5" cy="249" rx="12" ry="4" fill="#000" fill-opacity="0.2425" filter="url(#b2)" transform="rotate(0 385.5 249)"/>
<path d="M384.1 243.2h0.9 M386.5 249.5h0.9 M386.5 247.1h0.9 M394.8 248.7h0.9 M380.7 247.2h0.9 M388.3 246.3h0.9 M377.8 254.0h0.9 M395.6 251.6h0.9 M396.1 250.5h0.9 M372.5 252.0h0.9 M395.1 250.2h0.9 M396.1 247.8h0.9 M386.5 251.0h0.9 M384.8 251.8h0.9 M386.1 250.7h0.9 M386.2 245.3h0.9 M377.8 257.0h0.9 M387.7 252.3h0.9 M394.3 253.3h0.9 M389.8 247.5h0.9 M385.6 244.2h0.9 M384.0 251.3h0.9 M391.9 252.3h0.9 M378.3 247.4h0.9 M389.6 254.2h0.9 M376.6 252.5h0.9 M388.8 247.8h0.9 M385.0 249.6h0.9 M393.1 252.4h0.9 M389.5 249.9h0.9 M384.1 248.0h0.9 M375.9 253.9h0.9 M382.0 243.7h0.9 M387.6 248.9h0.9 M386.9 253.6h0.9 M384.7 248.3h0.9 M379.7 248.9h0.9 M382.1 249.5h0.9 M378.8 253.9h0.9 M392.2 251.1h0.9 M391.1 251.1h0.9 M390.8 252.6h0.9 M393.3 252.4h0.9 M381.6 249.0h0.9 M379.8 251.4h0.9 M392.0 247.8h0.9 M390.1 255.6h0.9 M395.1 246.2h0.9 M384.8 250.6h0.9 M385.2 250.0h0.9 M394.7 249.8h0.9 M377.0 250.8h0.9 M384.7 249.3h0.9 M381.1 245.5h0.9 M375.8 248.1h0.9 M377.2 242.1h0.9 M394.4 246.1h0.9 M379.9 250.3h0.9 M379.5 250.7h0.9 M381.7 249.8h0.9 M386.3 249.0h0.9 M385.2 252.6h0.9 M381.2 250.3h0.9 M386.8 250.2h0.9 M393.2 245.2h0.9 M387.6 248.5h0.9 M383.1 246.8h0.9 M379.4 246.4h0.9 M376.9 255.4h0.9 M398.7 249.0h0.9 M391.3 246.5h0.9 M386.6 252.6h0.9 M385.2 246.5h0.9 M383.6 246.5h0.9 M374.6 248.4h0.9 M382.4 246.9h0.9 M378.6 246.6h0.9 M387.3 252.5h0.9 M383.9 254.7h0.9 M372.9 249.7h0.9 M376.5 248.6h0.9 M386.3 250.4h0.9 M394.3 247.6h0.9 M375.8 248.5h0.9 M387.8 247.2h0.9 M392.5 253.3h0.9 M374.4 249.9h0.9 M393.4 244.1h0.9 M387.1 248.4h0.9 M374.4 252.3h0.9 M387.2 247.8h0.9 M389.0 250.6h0.9 M391.5 250.5h0.9 M388.7 246.0h0.9 M382.2 249.3h0.9 M382.5 246.3h0.9 M385.8 247.5h0.9 M382.3 246.7h0.9 M379.7 248.8h0.9 M380.5 250.7h0.9 M384.4 249.3h0.9 M388.7 252.2h0.9 M390.2 249.6h0.9 M384.2 247.0h0.9 M382.8 250.7h0.9 M387.3 248.0h0.9 M375.1 245.1h0.9 M388.0 251.6h0.9 M388.4 245.5h0.9 M383.8 249.6h0.9 M378.3 249.9h0.9 M383.9 246.9h0.9 M375.8 251.1h0.9 M388.3 246.8h0.9 M377.6 251.3h0.9 M390.1 248.2h0.9 M397.9 248.3h0.9 M377.3 251.8h0.9 M384.0 249.9h0.9 M385.8 246.5h0.9 M376.2 248.5h0.9 M396.5 246.5h0.9 M396.1 249.6h0.9 M376.8 249.7h0.9 M389.9 246.7h0.9 M376.9 250.1h0.9 M379.2 245.3h0.9 M383.6 249.4h0.9 M381.2 246.0h0.9 M387.2 244.6h0.9 M389.7 250.2h0.9 M398.6 251.2h0.9 M388.3 249.7h0.9 M385.7 245.6h0.9 M396.9 250.3h0.9 M383.3 246.1h0.9 M397.0 250.3h0.9 M376.3 250.7h0.9 M400.2 248.9h0.9 M388.6 247.9h0.9 M380.6 251.7h0.9 M384.5 251.0h0.9 M383.1 250.8h0.9 M391.9 246.4h0.9 M377.2 248.8h0.9 M392.0 249.7h0.9 M395.1 245.5h0.9 M389.3 247.4h0.9 M386.3 249.8h0.9 M378.0 248.4h0.9 M376.5 249.7h0.9 M378.9 247.8h0.9 M387.2 247.4h0.9 M394.4 247.4h0.9 M392.1 249.7h0.9 M377.5 248.4h0.9 M379.0 248.1h0.9 M383.4 253.6h0.9 M382.2 253.0h0.9 M389.0 245.7h0.9 M393.5 250.0h0.9 M383.9 248.4h0.9 M387.5 248.2h0.9 M381.4 248.1h0.9 M394.6 247.4h0.9 M388.4 246.1h0.9 M380.0 245.5h0.9 M384.0 250.7h0.9 M387.9 247.8h0.9 M390.2 248.1h0.9 M388.4 249.7h0.9 M389.7 242.8h0.9 M375.4 250.9h0.9 M384.7 254.6h0.9 M383.7 247.6h0.9 M397.1 250.4h0.9 M400.2 250.3h0.9 M383.9 250.8h0.9 M379.4 247.9h0.9 M381.2 248.4h0.9 M391.5 247.8h0.9 M388.0 247.7h0.9 M392.3 242.1h0.9 M383.9 249.4h0.9 M377.2 251.5h0.9 M387.2 252.2h0.9 M392.9 250.6h0.9 M384.3 246.3h0.9 M383.8 247.8h0.9 M387.4 247.8h0.9 M394.6 247.8h0.9 M383.6 251.3h0.9 M385.5 246.0h0.9 M388.7 248.5h0.9 M377.3 247.1h0.9 M389.2 249.8h0.9 M383.3 254.4h0.9 M388.7 247.5h0.9 M387.3 248.7h0.9 M374.8 254.2h0.9 M384.1 248.3h0.9 M381.1 251.5h0.9 M385.7 253.3h0.9 M391.6 253.1h0.9 M384.6 249.9h0.9 M382.2 248.6h0.9 M378.2 247.4h0.9 M394.9 249.7h0.9 M395.0 251.2h0.9 M392.6 251.5h0.9 M380.8 251.0h0.9 M383.0 247.7h0.9 M394.7 254.4h0.9 M378.0 253.4h0.9 M391.9 246.9h0.9 M387.6 249.9h0.9 M388.4 248.1h0.9 M375.6 249.1h0.9 M392.1 251.0h0.9 M390.6 251.8h0.9 M377.9 248.9h0.9 M388.1 251.5h0.9 M386.7 250.3h0.9 M386.5 254.3h0.9 M374.5 247.3h0.9 M387.2 253.3h0.9 M389.1 250.7h0.9 M393.3 249.5h0.9 M378.9 248.8h0.9 M388.1 248.3h0.9 M380.4 248.1h0.9 M373.9 246.4h0.9 M384.8 248.1h0.9 M385.8 252.5h0.9 M387.8 248.9h0.9 M376.5 246.3h0.9 M388.4 246.8h0.9 M388.8 246.3h0.9 M386.5 248.8h0.9 M393.2 248.0h0.9 M382.6 249.6h0.9 M385.9 253.2h0.9 M383.5 247.7h0.9 M383.0 250.2h0.9 M387.3 250.7h0.9 M374.8 255.2h0.9 M399.7 248.9h0.9 M376.2 249.4h0.9 M388.7 243.4h0.9 M385.6 245.3h0.9 M389.0 252.5h0.9 M393.5 245.2h0.9 M396.1 251.3h0.9 M382.7 250.3h0.9 M397.2 248.2h0.9 M385.4 247.6h0.9 M394.4 243.6h0.9 M396.4 246.6h0.9 M392.6 244.9h0.9 M378.3 247.5h0.9 M391.9 244.9h0.9 M390.1 247.4h0.9 M395.1 248.2h0.9 M389.2 248.6h0.9 M399.3 248.1h0.9 M385.3 254.0h0.9 M386.1 250.7h0.9 M379.8 249.5h0.9 M380.5 245.2h0.9 M374.6 251.9h0.9 M388.8 245.2h0.9 M399.5 247.3h0.9 M382.7 249.6h0.9 M376.7 245.0h0.9 M379.8 252.0h0.9" stroke="#000" stroke-opacity="0.25" stroke-width="0.9" fill="none"/>
<ellipse cx="391.5" cy="249" rx="6" ry="5.3" fill="#000" fill-opacity="0.97" filter="url(#b1_5)" transform="rotate(0 391.5 249)"/>
<path d="M411.5 245.1h0.9 M411.8 249.0h0.9 M410.8 249.0h0.9 M410.7 246.5h0.9 M408.8 247.2h0.9 M409.6 250.4h0.9 M408.3 252.7h0.9 M409.2 247.5h0.9 M411.1 249.9h0.9 M409.6 246.3h0.9 M408.7 245.1h0.9 M411.8 251.5h0.9 M412.8 250.1h0.9 M410.6 250.7h0.9 M411.5 248.3h0.9 M410.6 254.1h0.9 M407.7 245.5h0.9 M408.7 250.7h0.9 M411.8 248.1h0.9 M411.1 248.8h0.9 M410.5 247.6h0.9 M410.1 248.9h0.9 M411.7 254.3h0.9 M407.5 250.2h0.9 M410.1 251.2h0.9" stroke="#000" stroke-opacity="0.2" stroke-width="0.9" fill="none"/>
<rect x="371.3" y="226.4" width="50.50" height="51.60" fill="none" stroke="#333" stroke-width="1.3"/>
<path d="M371.6 239.6 H405 L401.7 258.2 H371.6" fill="none" stroke="#111" stroke-width="1.1"/>
<path d="M407.6 239.6 H419 V258.2 H403.5 Z" fill="none" stroke="#111" stroke-width="1.1" stroke-linejoin="round"/>
<text transform="translate(380.4 267.6) scale(1.0 1.03)" font-size="9.5" text-anchor="start" font-weight="normal" stroke="#111" stroke-width="0.25" >97.3</text>
<text transform="translate(404.8 267.6) scale(1.0 1.03)" font-size="9.5" text-anchor="start" font-weight="normal" stroke="#111" stroke-width="0.25" >2.4</text>
<text transform="translate(363.3 202.6) rotate(-90) scale(1.0 1.0)" font-size="9.5" text-anchor="start" stroke="#111" stroke-width="0.25" >CD4</text>
<text transform="translate(363.8 270.2) rotate(-90) scale(1.0 1.0)" font-size="9.5" text-anchor="start" stroke="#111" stroke-width="0.25" >CD8</text>
<path d="M368.2 197.4 L368.2 211.6 L384.6 211.6" fill="none" stroke="#333" stroke-width="0.9"/>
<path d="M366.5 198.0 L368.2 194.4 L369.9 198.0Z" fill="#111"/>
<path d="M384.0 209.9 L387.6 211.6 L384.0 213.29999999999998Z" fill="#111"/>
<path d="M368.4 267.8 L368.4 281.6 L384.6 281.6" fill="none" stroke="#333" stroke-width="0.9"/>
<path d="M366.7 268.40000000000003 L368.4 264.8 L370.09999999999997 268.40000000000003Z" fill="#111"/>
<path d="M384.0 279.90000000000003 L387.6 281.6 L384.0 283.3Z" fill="#111"/>
<text transform="translate(379.2 222.4) scale(1.0 1.03)" font-size="9.5" text-anchor="start" font-weight="normal" stroke="#111" stroke-width="0.25" >CD45.2</text>
<text transform="translate(381.2 292.4) scale(1.0 1.03)" font-size="9.5" text-anchor="start" font-weight="normal" stroke="#111" stroke-width="0.25" >CD45.2</text>
</g>
</svg>
</body></html>
